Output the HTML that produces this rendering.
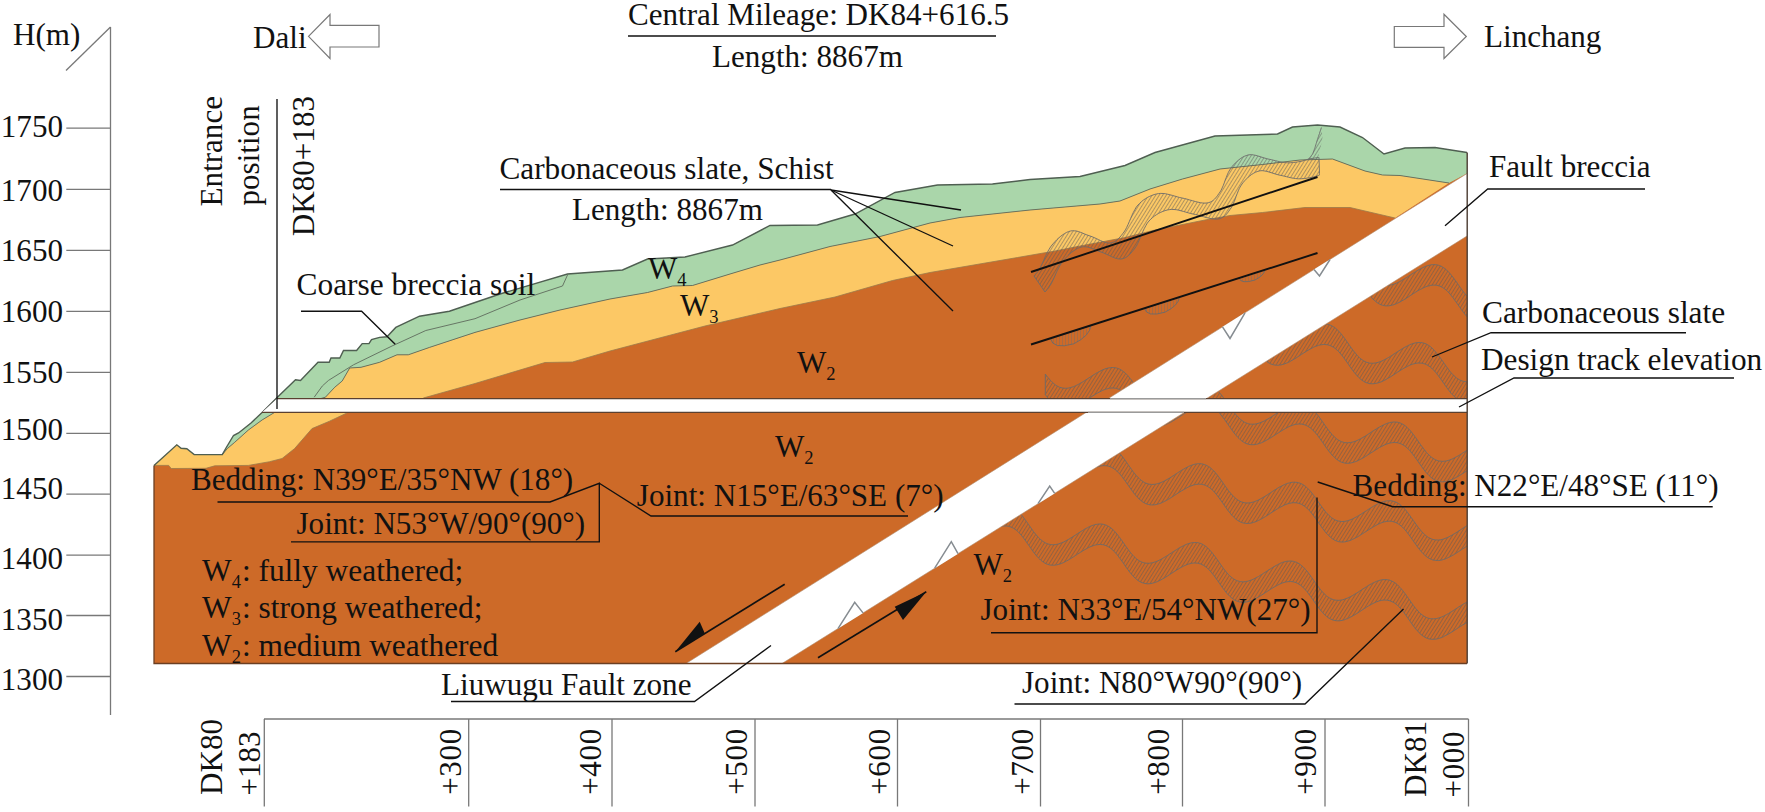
<!DOCTYPE html>
<html><head><meta charset="utf-8"><title>Geological longitudinal profile</title>
<style>html,body{margin:0;padding:0;background:#fff;overflow:hidden}svg{display:block}</style></head>
<body>
<svg width="1765" height="812" viewBox="0 0 1765 812">
<defs>
<pattern id="hatch" width="3" height="3" patternUnits="userSpaceOnUse" patternTransform="rotate(-58)">
<line x1="0" y1="0" x2="3" y2="0" stroke="#595959" stroke-width="0.95"/></pattern>
<pattern id="hatchv" width="3" height="3" patternUnits="userSpaceOnUse" patternTransform="rotate(0)">
<line x1="0" y1="0" x2="0" y2="3" stroke="#6e6e6e" stroke-width="0.75"/></pattern>
</defs>
<rect width="1765" height="812" fill="#fff"/>
<polygon points="154.0,465.4 176.8,444.8 181.1,448.3 186.8,448.8 194.2,454.6 222.3,454.6 226.0,448.0 233.5,435.5 238.5,433.0 251.0,423.0 263.4,411.2 277.4,397.2 295.5,379.8 300.5,380.4 318.0,362.3 329.2,362.3 331.0,358.0 339.8,358.0 343.5,350.5 356.6,350.5 362.2,343.6 369.0,343.6 371.5,339.6 379.6,337.4 387.0,336.8 395.8,327.4 419.5,316.2 449.4,311.2 475.0,302.5 500.0,294.0 567.5,274.0 622.5,270.0 647.5,259.0 685.0,257.0 732.5,245.0 770.0,225.5 817.5,225.0 855.0,214.0 895.0,192.5 937.5,185.0 992.5,184.0 1030.0,179.5 1080.0,176.5 1125.0,165.5 1155.0,152.5 1215.0,136.0 1277.5,134.0 1292.5,127.0 1317.5,125.0 1340.0,127.0 1362.5,137.5 1384.0,154.0 1405.0,148.0 1435.0,147.5 1467.0,152.5 1467.0,663.5 154.0,663.5" fill="#cd6a28"/>
<polygon points="154.0,465.4 176.8,444.8 181.1,448.3 186.8,448.8 194.2,454.6 222.3,454.6 227.3,448.6 234.7,442.3 248.5,429.9 262.2,419.9 274.6,412.4 325.4,397.2 334.8,387.2 342.2,381.0 349.7,368.0 361.0,367.3 379.6,362.3 397.0,354.8 408.3,354.8 429.5,347.4 475.0,332.4 520.0,320.0 560.0,310.0 610.0,299.0 647.5,292.5 672.5,286.0 692.5,285.5 730.0,274.0 760.0,265.0 780.0,260.0 830.0,246.5 880.0,236.5 930.0,223.0 960.0,217.5 1030.0,210.0 1100.0,204.0 1120.0,201.0 1150.0,189.0 1182.5,179.0 1220.0,169.0 1262.5,164.5 1300.0,160.0 1332.5,159.0 1365.0,171.0 1382.5,175.0 1400.0,175.5 1449.0,183.0 1395.0,218.0 1350.0,207.5 1305.0,207.5 1262.5,212.5 1230.0,215.5 1205.0,220.0 1155.0,230.0 1125.0,237.5 1080.0,246.0 1055.0,251.0 1017.5,257.5 930.0,272.5 892.5,280.5 835.0,297.0 780.0,308.5 705.0,326.0 610.0,351.0 572.5,362.0 545.0,362.5 475.0,383.5 423.3,398.0 346.9,413.0 329.5,421.2 312.0,428.6 294.6,448.6 282.1,458.5 269.6,461.7 248.5,465.4 214.8,465.8 206.0,468.3 171.2,468.5 168.7,465.4 154.0,465.4" fill="#fcc865"/>
<polygon points="222.3,454.6 226.0,448.0 233.5,435.5 238.5,433.0 251.0,423.0 263.4,411.2 277.4,397.2 295.5,379.8 300.5,380.4 318.0,362.3 329.2,362.3 331.0,358.0 339.8,358.0 343.5,350.5 356.6,350.5 362.2,343.6 369.0,343.6 371.5,339.6 379.6,337.4 387.0,336.8 395.8,327.4 419.5,316.2 449.4,311.2 475.0,302.5 500.0,294.0 567.5,274.0 622.5,270.0 647.5,259.0 685.0,257.0 732.5,245.0 770.0,225.5 817.5,225.0 855.0,214.0 895.0,192.5 937.5,185.0 992.5,184.0 1030.0,179.5 1080.0,176.5 1125.0,165.5 1155.0,152.5 1215.0,136.0 1277.5,134.0 1292.5,127.0 1317.5,125.0 1340.0,127.0 1362.5,137.5 1384.0,154.0 1405.0,148.0 1435.0,147.5 1467.0,152.5 1467.0,173.5 1449.0,183.0 1400.0,175.5 1382.5,175.0 1365.0,171.0 1332.5,159.0 1300.0,160.0 1262.5,164.5 1220.0,169.0 1182.5,179.0 1150.0,189.0 1120.0,201.0 1100.0,204.0 1030.0,210.0 960.0,217.5 930.0,223.0 880.0,236.5 830.0,246.5 780.0,260.0 760.0,265.0 730.0,274.0 692.5,285.5 672.5,286.0 647.5,292.5 610.0,299.0 560.0,310.0 520.0,320.0 475.0,332.4 429.5,347.4 408.3,354.8 397.0,354.8 379.6,362.3 361.0,367.3 349.7,368.0 342.2,381.0 334.8,387.2 325.4,397.2 274.6,412.4 262.2,419.9 248.5,429.9 234.7,442.3 227.3,448.6 222.3,454.6" fill="#aad6aa"/>
<polyline points="222.3,454.6 227.3,448.6 234.7,442.3 248.5,429.9 262.2,419.9 274.6,412.4 325.4,397.2 334.8,387.2 342.2,381.0 349.7,368.0 361.0,367.3 379.6,362.3 397.0,354.8 408.3,354.8 429.5,347.4 475.0,332.4 520.0,320.0 560.0,310.0 610.0,299.0 647.5,292.5 672.5,286.0 692.5,285.5 730.0,274.0 760.0,265.0 780.0,260.0 830.0,246.5 880.0,236.5 930.0,223.0 960.0,217.5 1030.0,210.0 1100.0,204.0 1120.0,201.0 1150.0,189.0 1182.5,179.0 1220.0,169.0 1262.5,164.5 1300.0,160.0 1332.5,159.0 1365.0,171.0 1382.5,175.0 1400.0,175.5 1449.0,183.0" fill="none" stroke="#5f6b5c" stroke-width="0.9"/>
<polyline points="154.0,465.4 168.7,465.4 171.2,468.5 206.0,468.3 214.8,465.8 248.5,465.4 269.6,461.7 282.1,458.5 294.6,448.6 312.0,428.6 329.5,421.2 346.9,413.0" fill="none" stroke="#9a7a4a" stroke-width="0.8"/>
<polyline points="423.3,398.0 475.0,383.5 545.0,362.5 572.5,362.0 610.0,351.0 705.0,326.0 780.0,308.5 835.0,297.0 892.5,280.5 930.0,272.5 1017.5,257.5 1055.0,251.0 1080.0,246.0 1125.0,237.5 1155.0,230.0 1205.0,220.0 1230.0,215.5 1262.5,212.5 1305.0,207.5 1350.0,207.5 1395.0,218.0" fill="none" stroke="#9a7a4a" stroke-width="0.8"/>
<polyline points="314.2,397.2 322.3,386.0 328.5,380.4 353.5,364.8 392.0,346.0 425.8,330.5 475.0,318.7 520.0,300.0 562.5,286.0 567.5,275.0" fill="none" stroke="#5f6b5c" stroke-width="0.9"/>
<defs>
<clipPath id="cRight"><polygon points="782.0,663.5 1467.0,236.0 1467.0,663.5"/></clipPath>
<clipPath id="cLeftUp"><polygon points="1000.0,100.0 1467.0,100.0 1467.0,173.5 1109.0,398.5 1000.0,398.5"/></clipPath>
</defs>
<g clip-path="url(#cRight)">
<polygon points="777.1,137.1 778.4,137.9 779.8,138.8 781.1,139.9 782.4,141.1 783.7,142.4 784.9,143.8 786.2,145.2 787.4,146.8 788.6,148.4 789.8,150.0 791.0,151.7 792.2,153.4 793.4,155.2 794.6,156.9 795.8,158.6 797.0,160.2 798.2,161.9 799.4,163.4 800.7,164.9 801.9,166.3 803.2,167.7 804.5,168.9 805.8,170.0 807.1,171.0 808.5,171.9 809.9,172.6 811.3,173.2 812.7,173.7 814.2,174.0 815.7,174.2 817.2,174.2 818.7,174.1 820.3,173.9 821.9,173.6 823.5,173.1 825.2,172.5 826.8,171.8 828.5,171.0 830.2,170.2 831.9,169.2 833.6,168.2 835.4,167.1 837.1,166.0 838.9,164.9 840.6,163.7 842.4,162.6 844.1,161.5 845.9,160.4 847.6,159.3 849.3,158.3 851.0,157.4 852.7,156.5 854.4,155.7 856.1,155.1 857.7,154.5 859.3,154.0 860.9,153.7 862.5,153.5 864.0,153.5 865.5,153.5 867.0,153.7 868.5,154.1 869.9,154.6 871.3,155.2 872.7,156.0 874.1,156.8 875.4,157.9 876.7,159.0 878.0,160.2 879.3,161.6 880.5,163.0 881.7,164.5 883.0,166.1 884.2,167.7 885.4,169.4 886.6,171.1 887.8,172.8 889.0,174.5 890.1,176.2 891.3,177.9 892.6,179.5 893.8,181.1 895.0,182.7 896.2,184.1 897.5,185.5 898.8,186.8 900.1,187.9 901.4,189.0 902.8,189.9 904.1,190.7 905.5,191.4 906.9,192.0 908.4,192.4 909.9,192.6 911.4,192.7 912.9,192.7 914.5,192.6 916.0,192.3 917.7,191.9 919.3,191.4 920.9,190.7 922.6,190.0 924.3,189.2 926.0,188.2 927.7,187.3 929.5,186.2 931.2,185.1 932.9,184.0 934.7,182.9 936.4,181.7 938.2,180.6 939.9,179.5 941.7,178.4 943.4,177.4 945.1,176.4 946.8,175.5 948.5,174.7 950.2,173.9 951.8,173.3 953.5,172.8 955.1,172.4 956.7,172.1 958.2,172.0 959.7,172.0 961.2,172.1 962.7,172.4 964.2,172.8 965.6,173.4 967.0,174.1 968.3,174.9 969.7,175.8 971.0,176.9 972.3,178.1 973.6,179.4 974.8,180.7 976.1,182.2 977.3,183.8 978.5,185.4 979.7,187.0 980.9,188.7 982.1,190.4 983.3,192.1 984.5,193.8 985.7,195.5 986.9,197.2 988.1,198.8 989.4,200.4 990.6,201.9 991.8,203.3 993.1,204.6 994.4,205.9 995.7,207.0 997.0,208.0 998.4,208.9 999.8,209.6 1001.2,210.2 1002.6,210.7 1004.1,211.0 1005.6,211.2 1007.1,211.3 1008.6,211.2 1010.2,211.0 1011.8,210.6 1013.4,210.2 1015.1,209.6 1016.7,208.9 1018.4,208.1 1020.1,207.3 1021.8,206.3 1023.5,205.3 1025.3,204.2 1027.0,203.1 1028.8,202.0 1030.5,200.9 1032.3,199.7 1034.0,198.6 1035.8,197.5 1037.5,196.4 1039.2,195.4 1040.9,194.5 1042.6,193.6 1044.3,192.8 1046.0,192.1 1047.6,191.6 1049.2,191.1 1050.8,190.8 1052.4,190.6 1053.9,190.5 1055.5,190.6 1056.9,190.8 1058.4,191.1 1059.8,191.6 1061.2,192.2 1062.6,193.0 1064.0,193.8 1065.3,194.8 1066.6,196.0 1067.9,197.2 1069.2,198.5 1070.4,200.0 1071.7,201.5 1072.9,203.0 1074.1,204.7 1075.3,206.3 1076.5,208.0 1077.7,209.7 1078.9,211.5 1080.1,213.2 1081.3,214.9 1082.5,216.5 1083.7,218.1 1084.9,219.6 1086.2,221.1 1087.4,222.5 1088.7,223.8 1090.0,224.9 1091.3,226.0 1092.7,226.9 1094.1,227.8 1095.4,228.4 1096.9,229.0 1098.3,229.4 1099.8,229.7 1101.3,229.8 1102.8,229.8 1104.4,229.6 1106.0,229.4 1107.6,229.0 1109.2,228.4 1110.9,227.8 1112.5,227.1 1114.2,226.3 1115.9,225.3 1117.6,224.4 1119.4,223.3 1121.1,222.2 1122.9,221.1 1124.6,220.0 1126.4,218.8 1128.1,217.7 1129.9,216.6 1131.6,215.5 1133.3,214.5 1135.0,213.5 1136.7,212.6 1138.4,211.7 1140.1,211.0 1141.8,210.4 1143.4,209.9 1145.0,209.5 1146.6,209.2 1148.1,209.0 1149.7,209.0 1151.2,209.2 1152.6,209.4 1154.1,209.8 1155.5,210.4 1156.9,211.1 1158.3,211.9 1159.6,212.8 1160.9,213.9 1162.2,215.1 1163.5,216.3 1164.8,217.7 1166.0,219.2 1167.3,220.7 1168.5,222.3 1169.7,224.0 1170.9,225.7 1172.1,227.4 1173.3,229.1 1174.5,230.8 1175.7,232.5 1176.9,234.2 1178.1,235.8 1179.3,237.4 1180.5,238.9 1181.8,240.3 1183.0,241.6 1184.3,242.9 1185.6,244.0 1187.0,245.0 1188.3,245.9 1189.7,246.6 1191.1,247.2 1192.6,247.7 1194.0,248.1 1195.5,248.3 1197.0,248.3 1198.6,248.3 1200.1,248.0 1201.7,247.7 1203.3,247.3 1205.0,246.7 1206.6,246.0 1208.3,245.2 1210.0,244.4 1211.7,243.4 1213.5,242.4 1215.2,241.3 1216.9,240.2 1218.7,239.1 1220.4,238.0 1222.2,236.8 1223.9,235.7 1225.7,234.6 1227.4,233.5 1229.1,232.5 1230.9,231.6 1232.6,230.7 1234.2,229.9 1235.9,229.2 1237.5,228.6 1239.2,228.2 1240.7,227.8 1242.3,227.6 1243.9,227.6 1245.4,227.6 1246.9,227.8 1248.3,228.1 1249.8,228.6 1251.2,229.2 1252.6,230.0 1253.9,230.8 1255.3,231.8 1256.6,233.0 1257.8,234.2 1259.1,235.5 1260.4,236.9 1261.6,238.4 1262.8,240.0 1264.0,241.6 1265.2,243.3 1266.4,245.0 1267.6,246.7 1268.8,248.4 1270.0,250.1 1271.2,251.8 1272.4,253.5 1273.6,255.1 1274.9,256.6 1276.1,258.1 1277.4,259.5 1278.7,260.7 1279.9,261.9 1281.3,263.0 1282.6,263.9 1284.0,264.8 1285.4,265.5 1286.8,266.0 1288.2,266.4 1289.7,266.7 1291.2,266.8 1292.7,266.8 1294.3,266.7 1295.9,266.4 1297.5,266.0 1299.1,265.5 1300.8,264.9 1302.4,264.2 1304.1,263.4 1305.8,262.4 1307.5,261.5 1309.3,260.4 1311.0,259.4 1312.8,258.2 1314.5,257.1 1316.3,255.9 1318.0,254.8 1319.8,253.7 1321.5,252.6 1323.2,251.6 1325.0,250.6 1326.7,249.7 1328.3,248.8 1330.0,248.1 1331.7,247.5 1333.3,246.9 1334.9,246.5 1336.5,246.3 1338.1,246.1 1339.6,246.1 1341.1,246.2 1342.6,246.5 1344.0,246.9 1345.4,247.4 1346.8,248.1 1348.2,248.9 1349.6,249.8 1350.9,250.9 1352.2,252.1 1353.5,253.3 1354.7,254.7 1356.0,256.2 1357.2,257.7 1358.4,259.3 1359.6,260.9 1360.8,262.6 1362.0,264.3 1363.2,266.0 1364.4,267.8 1365.6,269.5 1366.8,271.1 1368.0,272.8 1369.2,274.3 1370.5,275.8 1371.7,277.3 1373.0,278.6 1374.3,279.8 1375.6,281.0 1376.9,282.0 1378.3,282.9 1379.6,283.6 1381.0,284.3 1382.5,284.7 1383.9,285.1 1385.4,285.3 1386.9,285.4 1388.5,285.3 1390.0,285.1 1391.6,284.8 1393.3,284.3 1394.9,283.8 1396.6,283.1 1398.2,282.3 1399.9,281.5 1401.6,280.5 1403.4,279.5 1405.1,278.5 1406.8,277.4 1408.6,276.2 1410.3,275.1 1412.1,273.9 1413.8,272.8 1415.6,271.7 1417.3,270.6 1419.0,269.6 1420.8,268.7 1422.5,267.8 1424.1,267.0 1425.8,266.3 1427.4,265.7 1429.1,265.3 1430.7,264.9 1432.2,264.7 1433.8,264.6 1435.3,264.7 1436.8,264.8 1438.3,265.2 1439.7,265.6 1441.1,266.2 1442.5,267.0 1443.8,267.8 1445.2,268.8 1446.5,269.9 1447.8,271.2 1449.1,272.5 1450.3,273.9 1451.5,275.4 1452.8,277.0 1454.0,278.6 1455.2,280.3 1456.4,281.9 1457.6,283.7 1458.8,285.4 1460.0,287.1 1461.2,288.8 1462.4,290.4 1463.6,292.0 1464.8,293.6 1466.0,295.1 1467.3,296.4 1468.6,297.7 1469.9,298.9 1471.2,300.0 1471.2,320.5 1469.9,319.4 1468.6,318.2 1467.3,316.9 1466.0,315.6 1464.8,314.1 1463.6,312.5 1462.4,310.9 1461.2,309.3 1460.0,307.6 1458.8,305.9 1457.6,304.2 1456.4,302.4 1455.2,300.8 1454.0,299.1 1452.8,297.5 1451.5,295.9 1450.3,294.4 1449.1,293.0 1447.8,291.7 1446.5,290.4 1445.2,289.3 1443.8,288.3 1442.5,287.5 1441.1,286.7 1439.7,286.1 1438.3,285.7 1436.8,285.3 1435.3,285.2 1433.8,285.1 1432.2,285.2 1430.7,285.4 1429.1,285.8 1427.4,286.2 1425.8,286.8 1424.1,287.5 1422.5,288.3 1420.8,289.2 1419.0,290.1 1417.3,291.1 1415.6,292.2 1413.8,293.3 1412.1,294.4 1410.3,295.6 1408.6,296.7 1406.8,297.9 1405.1,299.0 1403.4,300.0 1401.6,301.0 1399.9,302.0 1398.2,302.8 1396.6,303.6 1394.9,304.3 1393.3,304.8 1391.6,305.3 1390.0,305.6 1388.5,305.8 1386.9,305.9 1385.4,305.8 1383.9,305.6 1382.5,305.2 1381.0,304.8 1379.6,304.1 1378.3,303.4 1376.9,302.5 1375.6,301.5 1374.3,300.3 1373.0,299.1 1371.7,297.8 1370.5,296.3 1369.2,294.8 1368.0,293.3 1366.8,291.6 1365.6,290.0 1364.4,288.3 1363.2,286.5 1362.0,284.8 1360.8,283.1 1359.6,281.4 1358.4,279.8 1357.2,278.2 1356.0,276.7 1354.7,275.2 1353.5,273.8 1352.2,272.6 1350.9,271.4 1349.6,270.3 1348.2,269.4 1346.8,268.6 1345.4,267.9 1344.0,267.4 1342.6,267.0 1341.1,266.7 1339.6,266.6 1338.1,266.6 1336.5,266.8 1334.9,267.0 1333.3,267.4 1331.7,268.0 1330.0,268.6 1328.3,269.3 1326.7,270.2 1325.0,271.1 1323.2,272.1 1321.5,273.1 1319.8,274.2 1318.0,275.3 1316.3,276.4 1314.5,277.6 1312.8,278.7 1311.0,279.9 1309.3,280.9 1307.5,282.0 1305.8,282.9 1304.1,283.9 1302.4,284.7 1300.8,285.4 1299.1,286.0 1297.5,286.5 1295.9,286.9 1294.3,287.2 1292.7,287.3 1291.2,287.3 1289.7,287.2 1288.2,286.9 1286.8,286.5 1285.4,286.0 1284.0,285.3 1282.6,284.4 1281.3,283.5 1279.9,282.4 1278.7,281.2 1277.4,280.0 1276.1,278.6 1274.9,277.1 1273.6,275.6 1272.4,274.0 1271.2,272.3 1270.0,270.6 1268.8,268.9 1267.6,267.2 1266.4,265.5 1265.2,263.8 1264.0,262.1 1262.8,260.5 1261.6,258.9 1260.4,257.4 1259.1,256.0 1257.8,254.7 1256.6,253.5 1255.3,252.3 1253.9,251.3 1252.6,250.5 1251.2,249.7 1249.8,249.1 1248.3,248.6 1246.9,248.3 1245.4,248.1 1243.9,248.1 1242.3,248.1 1240.7,248.3 1239.2,248.7 1237.5,249.1 1235.9,249.7 1234.2,250.4 1232.6,251.2 1230.9,252.1 1229.1,253.0 1227.4,254.0 1225.7,255.1 1223.9,256.2 1222.2,257.3 1220.4,258.5 1218.7,259.6 1216.9,260.7 1215.2,261.8 1213.5,262.9 1211.7,263.9 1210.0,264.9 1208.3,265.7 1206.6,266.5 1205.0,267.2 1203.3,267.8 1201.7,268.2 1200.1,268.5 1198.6,268.8 1197.0,268.8 1195.5,268.8 1194.0,268.6 1192.6,268.2 1191.1,267.7 1189.7,267.1 1188.3,266.4 1187.0,265.5 1185.6,264.5 1184.3,263.4 1183.0,262.1 1181.8,260.8 1180.5,259.4 1179.3,257.9 1178.1,256.3 1176.9,254.7 1175.7,253.0 1174.5,251.3 1173.3,249.6 1172.1,247.9 1170.9,246.2 1169.7,244.5 1168.5,242.8 1167.3,241.2 1166.0,239.7 1164.8,238.2 1163.5,236.8 1162.2,235.6 1160.9,234.4 1159.6,233.3 1158.3,232.4 1156.9,231.6 1155.5,230.9 1154.1,230.3 1152.6,229.9 1151.2,229.7 1149.7,229.5 1148.1,229.5 1146.6,229.7 1145.0,230.0 1143.4,230.4 1141.8,230.9 1140.1,231.5 1138.4,232.2 1136.7,233.1 1135.0,234.0 1133.3,235.0 1131.6,236.0 1129.9,237.1 1128.1,238.2 1126.4,239.3 1124.6,240.5 1122.9,241.6 1121.1,242.7 1119.4,243.8 1117.6,244.9 1115.9,245.8 1114.2,246.8 1112.5,247.6 1110.9,248.3 1109.2,248.9 1107.6,249.5 1106.0,249.9 1104.4,250.1 1102.8,250.3 1101.3,250.3 1099.8,250.2 1098.3,249.9 1096.9,249.5 1095.4,248.9 1094.1,248.3 1092.7,247.4 1091.3,246.5 1090.0,245.4 1088.7,244.3 1087.4,243.0 1086.2,241.6 1084.9,240.1 1083.7,238.6 1082.5,237.0 1081.3,235.4 1080.1,233.7 1078.9,232.0 1077.7,230.2 1076.5,228.5 1075.3,226.8 1074.1,225.2 1072.9,223.5 1071.7,222.0 1070.4,220.5 1069.2,219.0 1067.9,217.7 1066.6,216.5 1065.3,215.3 1064.0,214.3 1062.6,213.5 1061.2,212.7 1059.8,212.1 1058.4,211.6 1056.9,211.3 1055.5,211.1 1053.9,211.0 1052.4,211.1 1050.8,211.3 1049.2,211.6 1047.6,212.1 1046.0,212.6 1044.3,213.3 1042.6,214.1 1040.9,215.0 1039.2,215.9 1037.5,216.9 1035.8,218.0 1034.0,219.1 1032.3,220.2 1030.5,221.4 1028.8,222.5 1027.0,223.6 1025.3,224.7 1023.5,225.8 1021.8,226.8 1020.1,227.8 1018.4,228.6 1016.7,229.4 1015.1,230.1 1013.4,230.7 1011.8,231.1 1010.2,231.5 1008.6,231.7 1007.1,231.8 1005.6,231.7 1004.1,231.5 1002.6,231.2 1001.2,230.7 999.8,230.1 998.4,229.4 997.0,228.5 995.7,227.5 994.4,226.4 993.1,225.1 991.8,223.8 990.6,222.4 989.4,220.9 988.1,219.3 986.9,217.7 985.7,216.0 984.5,214.3 983.3,212.6 982.1,210.9 980.9,209.2 979.7,207.5 978.5,205.9 977.3,204.3 976.1,202.7 974.8,201.2 973.6,199.9 972.3,198.6 971.0,197.4 969.7,196.3 968.3,195.4 967.0,194.6 965.6,193.9 964.2,193.3 962.7,192.9 961.2,192.6 959.7,192.5 958.2,192.5 956.7,192.6 955.1,192.9 953.5,193.3 951.8,193.8 950.2,194.4 948.5,195.2 946.8,196.0 945.1,196.9 943.4,197.9 941.7,198.9 939.9,200.0 938.2,201.1 936.4,202.2 934.7,203.4 932.9,204.5 931.2,205.6 929.5,206.7 927.7,207.8 926.0,208.7 924.3,209.7 922.6,210.5 920.9,211.2 919.3,211.9 917.7,212.4 916.0,212.8 914.5,213.1 912.9,213.2 911.4,213.2 909.9,213.1 908.4,212.9 906.9,212.5 905.5,211.9 904.1,211.2 902.8,210.4 901.4,209.5 900.1,208.4 898.8,207.3 897.5,206.0 896.2,204.6 895.0,203.2 893.8,201.6 892.6,200.0 891.3,198.4 890.1,196.7 889.0,195.0 887.8,193.3 886.6,191.6 885.4,189.9 884.2,188.2 883.0,186.6 881.7,185.0 880.5,183.5 879.3,182.1 878.0,180.7 876.7,179.5 875.4,178.4 874.1,177.3 872.7,176.5 871.3,175.7 869.9,175.1 868.5,174.6 867.0,174.2 865.5,174.0 864.0,174.0 862.5,174.0 860.9,174.2 859.3,174.5 857.7,175.0 856.1,175.6 854.4,176.2 852.7,177.0 851.0,177.9 849.3,178.8 847.6,179.8 845.9,180.9 844.1,182.0 842.4,183.1 840.6,184.2 838.9,185.4 837.1,186.5 835.4,187.6 833.6,188.7 831.9,189.7 830.2,190.7 828.5,191.5 826.8,192.3 825.2,193.0 823.5,193.6 821.9,194.1 820.3,194.4 818.7,194.6 817.2,194.7 815.7,194.7 814.2,194.5 812.7,194.2 811.3,193.7 809.9,193.1 808.5,192.4 807.1,191.5 805.8,190.5 804.5,189.4 803.2,188.2 801.9,186.8 800.7,185.4 799.4,183.9 798.2,182.4 797.0,180.7 795.8,179.1 794.6,177.4 793.4,175.7 792.2,173.9 791.0,172.2 789.8,170.5 788.6,168.9 787.4,167.3 786.2,165.7 784.9,164.3 783.7,162.9 782.4,161.6 781.1,160.4 779.8,159.3 778.4,158.4 777.1,157.6" fill="url(#hatch)" stroke="#6b6b6b" stroke-width="0.9" stroke-linejoin="round"/>
<polygon points="777.5,231.3 778.7,233.1 779.9,234.8 781.1,236.5 782.3,238.1 783.5,239.8 784.7,241.3 786.0,242.8 787.2,244.2 788.5,245.6 789.8,246.8 791.1,247.9 792.4,248.9 793.8,249.8 795.2,250.5 796.6,251.1 798.0,251.6 799.5,251.9 801.0,252.1 802.5,252.1 804.0,252.0 805.6,251.8 807.2,251.5 808.8,251.0 810.5,250.4 812.1,249.7 813.8,248.9 815.5,248.1 817.2,247.1 818.9,246.1 820.7,245.0 822.4,243.9 824.2,242.8 825.9,241.6 827.7,240.5 829.4,239.4 831.2,238.3 832.9,237.2 834.6,236.2 836.3,235.3 838.0,234.4 839.7,233.6 841.4,233.0 843.0,232.4 844.6,231.9 846.2,231.6 847.8,231.4 849.3,231.4 850.8,231.4 852.3,231.6 853.8,232.0 855.2,232.5 856.6,233.1 858.0,233.9 859.4,234.7 860.7,235.8 862.0,236.9 863.3,238.1 864.6,239.5 865.8,240.9 867.0,242.4 868.3,244.0 869.5,245.6 870.7,247.3 871.9,249.0 873.1,250.7 874.3,252.4 875.4,254.1 876.6,255.8 877.9,257.4 879.1,259.0 880.3,260.6 881.5,262.0 882.8,263.4 884.1,264.7 885.4,265.8 886.7,266.9 888.1,267.8 889.4,268.6 890.8,269.3 892.2,269.9 893.7,270.3 895.2,270.5 896.7,270.6 898.2,270.6 899.8,270.5 901.3,270.2 903.0,269.8 904.6,269.3 906.2,268.6 907.9,267.9 909.6,267.1 911.3,266.1 913.0,265.2 914.8,264.1 916.5,263.0 918.2,261.9 920.0,260.8 921.7,259.6 923.5,258.5 925.2,257.4 927.0,256.3 928.7,255.3 930.4,254.3 932.1,253.4 933.8,252.6 935.5,251.8 937.1,251.2 938.8,250.7 940.4,250.3 942.0,250.0 943.5,249.9 945.0,249.9 946.5,250.0 948.0,250.3 949.5,250.7 950.9,251.3 952.3,252.0 953.6,252.8 955.0,253.7 956.3,254.8 957.6,256.0 958.9,257.3 960.1,258.6 961.4,260.1 962.6,261.7 963.8,263.3 965.0,264.9 966.2,266.6 967.4,268.3 968.6,270.0 969.8,271.7 971.0,273.4 972.2,275.1 973.4,276.7 974.7,278.3 975.9,279.8 977.1,281.2 978.4,282.5 979.7,283.8 981.0,284.9 982.3,285.9 983.7,286.8 985.1,287.5 986.5,288.1 987.9,288.6 989.4,288.9 990.9,289.1 992.4,289.2 993.9,289.1 995.5,288.9 997.1,288.5 998.7,288.1 1000.4,287.5 1002.0,286.8 1003.7,286.0 1005.4,285.2 1007.1,284.2 1008.8,283.2 1010.6,282.1 1012.3,281.0 1014.1,279.9 1015.8,278.8 1017.6,277.6 1019.3,276.5 1021.1,275.4 1022.8,274.3 1024.5,273.3 1026.2,272.4 1027.9,271.5 1029.6,270.7 1031.3,270.0 1032.9,269.5 1034.5,269.0 1036.1,268.7 1037.7,268.5 1039.2,268.4 1040.8,268.5 1042.2,268.7 1043.7,269.0 1045.1,269.5 1046.5,270.1 1047.9,270.9 1049.3,271.7 1050.6,272.7 1051.9,273.9 1053.2,275.1 1054.5,276.4 1055.7,277.9 1057.0,279.4 1058.2,280.9 1059.4,282.6 1060.6,284.2 1061.8,285.9 1063.0,287.6 1064.2,289.4 1065.4,291.1 1066.6,292.8 1067.8,294.4 1069.0,296.0 1070.2,297.5 1071.5,299.0 1072.7,300.4 1074.0,301.7 1075.3,302.8 1076.6,303.9 1078.0,304.8 1079.4,305.7 1080.7,306.3 1082.2,306.9 1083.6,307.3 1085.1,307.6 1086.6,307.7 1088.1,307.7 1089.7,307.5 1091.3,307.3 1092.9,306.9 1094.5,306.3 1096.2,305.7 1097.8,305.0 1099.5,304.2 1101.2,303.2 1102.9,302.3 1104.7,301.2 1106.4,300.1 1108.2,299.0 1109.9,297.9 1111.7,296.7 1113.4,295.6 1115.2,294.5 1116.9,293.4 1118.6,292.4 1120.3,291.4 1122.0,290.5 1123.7,289.6 1125.4,288.9 1127.1,288.3 1128.7,287.8 1130.3,287.4 1131.9,287.1 1133.4,286.9 1135.0,286.9 1136.5,287.1 1137.9,287.3 1139.4,287.7 1140.8,288.3 1142.2,289.0 1143.6,289.8 1144.9,290.7 1146.2,291.8 1147.5,293.0 1148.8,294.2 1150.1,295.6 1151.3,297.1 1152.6,298.6 1153.8,300.2 1155.0,301.9 1156.2,303.6 1157.4,305.3 1158.6,307.0 1159.8,308.7 1161.0,310.4 1162.2,312.1 1163.4,313.7 1164.6,315.3 1165.8,316.8 1167.1,318.2 1168.3,319.5 1169.6,320.8 1170.9,321.9 1172.3,322.9 1173.6,323.8 1175.0,324.5 1176.4,325.1 1177.9,325.6 1179.3,326.0 1180.8,326.2 1182.3,326.2 1183.9,326.2 1185.4,325.9 1187.0,325.6 1188.6,325.2 1190.3,324.6 1191.9,323.9 1193.6,323.1 1195.3,322.3 1197.0,321.3 1198.8,320.3 1200.5,319.2 1202.2,318.1 1204.0,317.0 1205.7,315.9 1207.5,314.7 1209.2,313.6 1211.0,312.5 1212.7,311.4 1214.4,310.4 1216.2,309.5 1217.9,308.6 1219.5,307.8 1221.2,307.1 1222.8,306.5 1224.5,306.1 1226.0,305.7 1227.6,305.5 1229.2,305.5 1230.7,305.5 1232.2,305.7 1233.6,306.0 1235.1,306.5 1236.5,307.1 1237.9,307.9 1239.2,308.7 1240.6,309.7 1241.9,310.9 1243.1,312.1 1244.4,313.4 1245.7,314.8 1246.9,316.3 1248.1,317.9 1249.3,319.5 1250.5,321.2 1251.7,322.9 1252.9,324.6 1254.1,326.3 1255.3,328.0 1256.5,329.7 1257.7,331.4 1258.9,333.0 1260.2,334.5 1261.4,336.0 1262.7,337.4 1264.0,338.6 1265.2,339.8 1266.6,340.9 1267.9,341.8 1269.3,342.7 1270.7,343.4 1272.1,343.9 1273.5,344.3 1275.0,344.6 1276.5,344.7 1278.0,344.7 1279.6,344.6 1281.2,344.3 1282.8,343.9 1284.4,343.4 1286.1,342.8 1287.7,342.1 1289.4,341.3 1291.1,340.3 1292.8,339.4 1294.6,338.3 1296.3,337.3 1298.1,336.1 1299.8,335.0 1301.6,333.8 1303.3,332.7 1305.1,331.6 1306.8,330.5 1308.5,329.5 1310.3,328.5 1312.0,327.6 1313.6,326.7 1315.3,326.0 1317.0,325.4 1318.6,324.8 1320.2,324.4 1321.8,324.2 1323.4,324.0 1324.9,324.0 1326.4,324.1 1327.9,324.4 1329.3,324.8 1330.7,325.3 1332.1,326.0 1333.5,326.8 1334.9,327.7 1336.2,328.8 1337.5,330.0 1338.8,331.2 1340.0,332.6 1341.3,334.1 1342.5,335.6 1343.7,337.2 1344.9,338.8 1346.1,340.5 1347.3,342.2 1348.5,343.9 1349.7,345.7 1350.9,347.4 1352.1,349.0 1353.3,350.7 1354.5,352.2 1355.8,353.7 1357.0,355.2 1358.3,356.5 1359.6,357.7 1360.9,358.9 1362.2,359.9 1363.6,360.8 1364.9,361.5 1366.3,362.2 1367.8,362.6 1369.2,363.0 1370.7,363.2 1372.2,363.3 1373.8,363.2 1375.3,363.0 1376.9,362.7 1378.6,362.2 1380.2,361.7 1381.9,361.0 1383.5,360.2 1385.2,359.4 1386.9,358.4 1388.7,357.4 1390.4,356.4 1392.1,355.3 1393.9,354.1 1395.6,353.0 1397.4,351.8 1399.1,350.7 1400.9,349.6 1402.6,348.5 1404.3,347.5 1406.1,346.6 1407.8,345.7 1409.4,344.9 1411.1,344.2 1412.7,343.6 1414.4,343.2 1416.0,342.8 1417.5,342.6 1419.1,342.5 1420.6,342.6 1422.1,342.7 1423.6,343.1 1425.0,343.5 1426.4,344.1 1427.8,344.9 1429.1,345.7 1430.5,346.7 1431.8,347.8 1433.1,349.1 1434.4,350.4 1435.6,351.8 1436.8,353.3 1438.1,354.9 1439.3,356.5 1440.5,358.2 1441.7,359.8 1442.9,361.6 1444.1,363.3 1445.3,365.0 1446.5,366.7 1447.7,368.3 1448.9,369.9 1450.1,371.5 1451.3,373.0 1452.6,374.3 1453.9,375.6 1455.2,376.8 1456.5,377.9 1457.8,378.8 1459.2,379.7 1460.6,380.4 1462.0,380.9 1463.5,381.4 1464.9,381.6 1466.4,381.8 1468.0,381.8 1469.5,381.7 1471.1,381.4 1471.1,401.9 1469.5,402.2 1468.0,402.3 1466.4,402.3 1464.9,402.1 1463.5,401.9 1462.0,401.4 1460.6,400.9 1459.2,400.2 1457.8,399.3 1456.5,398.4 1455.2,397.3 1453.9,396.1 1452.6,394.8 1451.3,393.5 1450.1,392.0 1448.9,390.4 1447.7,388.8 1446.5,387.2 1445.3,385.5 1444.1,383.8 1442.9,382.1 1441.7,380.3 1440.5,378.7 1439.3,377.0 1438.1,375.4 1436.8,373.8 1435.6,372.3 1434.4,370.9 1433.1,369.6 1431.8,368.3 1430.5,367.2 1429.1,366.2 1427.8,365.4 1426.4,364.6 1425.0,364.0 1423.6,363.6 1422.1,363.2 1420.6,363.1 1419.1,363.0 1417.5,363.1 1416.0,363.3 1414.4,363.7 1412.7,364.1 1411.1,364.7 1409.4,365.4 1407.8,366.2 1406.1,367.1 1404.3,368.0 1402.6,369.0 1400.9,370.1 1399.1,371.2 1397.4,372.3 1395.6,373.5 1393.9,374.6 1392.1,375.8 1390.4,376.9 1388.7,377.9 1386.9,378.9 1385.2,379.9 1383.5,380.7 1381.9,381.5 1380.2,382.2 1378.6,382.7 1376.9,383.2 1375.3,383.5 1373.8,383.7 1372.2,383.8 1370.7,383.7 1369.2,383.5 1367.8,383.1 1366.3,382.7 1364.9,382.0 1363.6,381.3 1362.2,380.4 1360.9,379.4 1359.6,378.2 1358.3,377.0 1357.0,375.7 1355.8,374.2 1354.5,372.7 1353.3,371.2 1352.1,369.5 1350.9,367.9 1349.7,366.2 1348.5,364.4 1347.3,362.7 1346.1,361.0 1344.9,359.3 1343.7,357.7 1342.5,356.1 1341.3,354.6 1340.0,353.1 1338.8,351.7 1337.5,350.5 1336.2,349.3 1334.9,348.2 1333.5,347.3 1332.1,346.5 1330.7,345.8 1329.3,345.3 1327.9,344.9 1326.4,344.6 1324.9,344.5 1323.4,344.5 1321.8,344.7 1320.2,344.9 1318.6,345.3 1317.0,345.9 1315.3,346.5 1313.6,347.2 1312.0,348.1 1310.3,349.0 1308.5,350.0 1306.8,351.0 1305.1,352.1 1303.3,353.2 1301.6,354.3 1299.8,355.5 1298.1,356.6 1296.3,357.8 1294.6,358.8 1292.8,359.9 1291.1,360.8 1289.4,361.8 1287.7,362.6 1286.1,363.3 1284.4,363.9 1282.8,364.4 1281.2,364.8 1279.6,365.1 1278.0,365.2 1276.5,365.2 1275.0,365.1 1273.5,364.8 1272.1,364.4 1270.7,363.9 1269.3,363.2 1267.9,362.3 1266.6,361.4 1265.2,360.3 1264.0,359.1 1262.7,357.9 1261.4,356.5 1260.2,355.0 1258.9,353.5 1257.7,351.9 1256.5,350.2 1255.3,348.5 1254.1,346.8 1252.9,345.1 1251.7,343.4 1250.5,341.7 1249.3,340.0 1248.1,338.4 1246.9,336.8 1245.7,335.3 1244.4,333.9 1243.1,332.6 1241.9,331.4 1240.6,330.2 1239.2,329.2 1237.9,328.4 1236.5,327.6 1235.1,327.0 1233.6,326.5 1232.2,326.2 1230.7,326.0 1229.2,326.0 1227.6,326.0 1226.0,326.2 1224.5,326.6 1222.8,327.0 1221.2,327.6 1219.5,328.3 1217.9,329.1 1216.2,330.0 1214.4,330.9 1212.7,331.9 1211.0,333.0 1209.2,334.1 1207.5,335.2 1205.7,336.4 1204.0,337.5 1202.2,338.6 1200.5,339.7 1198.8,340.8 1197.0,341.8 1195.3,342.8 1193.6,343.6 1191.9,344.4 1190.3,345.1 1188.6,345.7 1187.0,346.1 1185.4,346.4 1183.9,346.7 1182.3,346.7 1180.8,346.7 1179.3,346.5 1177.9,346.1 1176.4,345.6 1175.0,345.0 1173.6,344.3 1172.3,343.4 1170.9,342.4 1169.6,341.3 1168.3,340.0 1167.1,338.7 1165.8,337.3 1164.6,335.8 1163.4,334.2 1162.2,332.6 1161.0,330.9 1159.8,329.2 1158.6,327.5 1157.4,325.8 1156.2,324.1 1155.0,322.4 1153.8,320.7 1152.6,319.1 1151.3,317.6 1150.1,316.1 1148.8,314.7 1147.5,313.5 1146.2,312.3 1144.9,311.2 1143.6,310.3 1142.2,309.5 1140.8,308.8 1139.4,308.2 1137.9,307.8 1136.5,307.6 1135.0,307.4 1133.4,307.4 1131.9,307.6 1130.3,307.9 1128.7,308.3 1127.1,308.8 1125.4,309.4 1123.7,310.1 1122.0,311.0 1120.3,311.9 1118.6,312.9 1116.9,313.9 1115.2,315.0 1113.4,316.1 1111.7,317.2 1109.9,318.4 1108.2,319.5 1106.4,320.6 1104.7,321.7 1102.9,322.8 1101.2,323.7 1099.5,324.7 1097.8,325.5 1096.2,326.2 1094.5,326.8 1092.9,327.4 1091.3,327.8 1089.7,328.0 1088.1,328.2 1086.6,328.2 1085.1,328.1 1083.6,327.8 1082.2,327.4 1080.7,326.8 1079.4,326.2 1078.0,325.3 1076.6,324.4 1075.3,323.3 1074.0,322.2 1072.7,320.9 1071.5,319.5 1070.2,318.0 1069.0,316.5 1067.8,314.9 1066.6,313.3 1065.4,311.6 1064.2,309.9 1063.0,308.1 1061.8,306.4 1060.6,304.7 1059.4,303.1 1058.2,301.4 1057.0,299.9 1055.7,298.4 1054.5,296.9 1053.2,295.6 1051.9,294.4 1050.6,293.2 1049.3,292.2 1047.9,291.4 1046.5,290.6 1045.1,290.0 1043.7,289.5 1042.2,289.2 1040.8,289.0 1039.2,288.9 1037.7,289.0 1036.1,289.2 1034.5,289.5 1032.9,290.0 1031.3,290.5 1029.6,291.2 1027.9,292.0 1026.2,292.9 1024.5,293.8 1022.8,294.8 1021.1,295.9 1019.3,297.0 1017.6,298.1 1015.8,299.3 1014.1,300.4 1012.3,301.5 1010.6,302.6 1008.8,303.7 1007.1,304.7 1005.4,305.7 1003.7,306.5 1002.0,307.3 1000.4,308.0 998.7,308.6 997.1,309.0 995.5,309.4 993.9,309.6 992.4,309.7 990.9,309.6 989.4,309.4 987.9,309.1 986.5,308.6 985.1,308.0 983.7,307.3 982.3,306.4 981.0,305.4 979.7,304.3 978.4,303.0 977.1,301.7 975.9,300.3 974.7,298.8 973.4,297.2 972.2,295.6 971.0,293.9 969.8,292.2 968.6,290.5 967.4,288.8 966.2,287.1 965.0,285.4 963.8,283.8 962.6,282.2 961.4,280.6 960.1,279.1 958.9,277.8 957.6,276.5 956.3,275.3 955.0,274.2 953.6,273.3 952.3,272.5 950.9,271.8 949.5,271.2 948.0,270.8 946.5,270.5 945.0,270.4 943.5,270.4 942.0,270.5 940.4,270.8 938.8,271.2 937.1,271.7 935.5,272.3 933.8,273.1 932.1,273.9 930.4,274.8 928.7,275.8 927.0,276.8 925.2,277.9 923.5,279.0 921.7,280.1 920.0,281.3 918.2,282.4 916.5,283.5 914.8,284.6 913.0,285.7 911.3,286.6 909.6,287.6 907.9,288.4 906.2,289.1 904.6,289.8 903.0,290.3 901.3,290.7 899.8,291.0 898.2,291.1 896.7,291.1 895.2,291.0 893.7,290.8 892.2,290.4 890.8,289.8 889.4,289.1 888.1,288.3 886.7,287.4 885.4,286.3 884.1,285.2 882.8,283.9 881.5,282.5 880.3,281.1 879.1,279.5 877.9,277.9 876.6,276.3 875.4,274.6 874.3,272.9 873.1,271.2 871.9,269.5 870.7,267.8 869.5,266.1 868.3,264.5 867.0,262.9 865.8,261.4 864.6,260.0 863.3,258.6 862.0,257.4 860.7,256.3 859.4,255.2 858.0,254.4 856.6,253.6 855.2,253.0 853.8,252.5 852.3,252.1 850.8,251.9 849.3,251.9 847.8,251.9 846.2,252.1 844.6,252.4 843.0,252.9 841.4,253.5 839.7,254.1 838.0,254.9 836.3,255.8 834.6,256.7 832.9,257.7 831.2,258.8 829.4,259.9 827.7,261.0 825.9,262.1 824.2,263.3 822.4,264.4 820.7,265.5 818.9,266.6 817.2,267.6 815.5,268.6 813.8,269.4 812.1,270.2 810.5,270.9 808.8,271.5 807.2,272.0 805.6,272.3 804.0,272.5 802.5,272.6 801.0,272.6 799.5,272.4 798.0,272.1 796.6,271.6 795.2,271.0 793.8,270.3 792.4,269.4 791.1,268.4 789.8,267.3 788.5,266.1 787.2,264.7 786.0,263.3 784.7,261.8 783.5,260.3 782.3,258.6 781.1,257.0 779.9,255.3 778.7,253.6 777.5,251.8" fill="url(#hatch)" stroke="#6b6b6b" stroke-width="0.9" stroke-linejoin="round"/>
<polygon points="777.7,331.6 779.2,331.5 780.8,331.3 782.4,331.0 784.0,330.5 785.7,329.9 787.3,329.2 789.0,328.4 790.7,327.6 792.4,326.6 794.1,325.6 795.9,324.5 797.6,323.4 799.4,322.3 801.1,321.1 802.9,320.0 804.6,318.9 806.4,317.8 808.1,316.7 809.8,315.7 811.5,314.8 813.2,313.9 814.9,313.1 816.6,312.5 818.2,311.9 819.8,311.4 821.4,311.1 823.0,310.9 824.5,310.9 826.0,310.9 827.5,311.1 829.0,311.5 830.4,312.0 831.8,312.6 833.2,313.4 834.6,314.2 835.9,315.3 837.2,316.4 838.5,317.6 839.8,319.0 841.0,320.4 842.2,321.9 843.5,323.5 844.7,325.1 845.9,326.8 847.1,328.5 848.3,330.2 849.5,331.9 850.6,333.6 851.8,335.3 853.1,336.9 854.3,338.5 855.5,340.1 856.7,341.5 858.0,342.9 859.3,344.2 860.6,345.3 861.9,346.4 863.3,347.3 864.6,348.1 866.0,348.8 867.4,349.4 868.9,349.8 870.4,350.0 871.9,350.1 873.4,350.1 875.0,350.0 876.5,349.7 878.2,349.3 879.8,348.8 881.4,348.1 883.1,347.4 884.8,346.6 886.5,345.6 888.2,344.7 890.0,343.6 891.7,342.5 893.4,341.4 895.2,340.3 896.9,339.1 898.7,338.0 900.4,336.9 902.2,335.8 903.9,334.8 905.6,333.8 907.3,332.9 909.0,332.1 910.7,331.3 912.3,330.7 914.0,330.2 915.6,329.8 917.2,329.5 918.7,329.4 920.2,329.4 921.7,329.5 923.2,329.8 924.7,330.2 926.1,330.8 927.5,331.5 928.8,332.3 930.2,333.2 931.5,334.3 932.8,335.5 934.1,336.8 935.3,338.1 936.6,339.6 937.8,341.2 939.0,342.8 940.2,344.4 941.4,346.1 942.6,347.8 943.8,349.5 945.0,351.2 946.2,352.9 947.4,354.6 948.6,356.2 949.9,357.8 951.1,359.3 952.3,360.7 953.6,362.0 954.9,363.3 956.2,364.4 957.5,365.4 958.9,366.3 960.3,367.0 961.7,367.6 963.1,368.1 964.6,368.4 966.1,368.6 967.6,368.7 969.1,368.6 970.7,368.4 972.3,368.0 973.9,367.6 975.6,367.0 977.2,366.3 978.9,365.5 980.6,364.7 982.3,363.7 984.0,362.7 985.8,361.6 987.5,360.5 989.3,359.4 991.0,358.3 992.8,357.1 994.5,356.0 996.3,354.9 998.0,353.8 999.7,352.8 1001.4,351.9 1003.1,351.0 1004.8,350.2 1006.5,349.5 1008.1,349.0 1009.7,348.5 1011.3,348.2 1012.9,348.0 1014.4,347.9 1016.0,348.0 1017.4,348.2 1018.9,348.5 1020.3,349.0 1021.7,349.6 1023.1,350.4 1024.5,351.2 1025.8,352.2 1027.1,353.4 1028.4,354.6 1029.7,355.9 1030.9,357.4 1032.2,358.9 1033.4,360.4 1034.6,362.1 1035.8,363.7 1037.0,365.4 1038.2,367.1 1039.4,368.9 1040.6,370.6 1041.8,372.3 1043.0,373.9 1044.2,375.5 1045.4,377.0 1046.7,378.5 1047.9,379.9 1049.2,381.2 1050.5,382.3 1051.8,383.4 1053.2,384.3 1054.6,385.2 1055.9,385.8 1057.4,386.4 1058.8,386.8 1060.3,387.1 1061.8,387.2 1063.3,387.2 1064.9,387.0 1066.5,386.8 1068.1,386.4 1069.7,385.8 1071.4,385.2 1073.0,384.5 1074.7,383.7 1076.4,382.7 1078.1,381.8 1079.9,380.7 1081.6,379.6 1083.4,378.5 1085.1,377.4 1086.9,376.2 1088.6,375.1 1090.4,374.0 1092.1,372.9 1093.8,371.9 1095.5,370.9 1097.2,370.0 1098.9,369.1 1100.6,368.4 1102.3,367.8 1103.9,367.3 1105.5,366.9 1107.1,366.6 1108.6,366.4 1110.2,366.4 1111.7,366.6 1113.1,366.8 1114.6,367.2 1116.0,367.8 1117.4,368.5 1118.8,369.3 1120.1,370.2 1121.4,371.3 1122.7,372.5 1124.0,373.7 1125.3,375.1 1126.5,376.6 1127.8,378.1 1129.0,379.7 1130.2,381.4 1131.4,383.1 1132.6,384.8 1133.8,386.5 1135.0,388.2 1136.2,389.9 1137.4,391.6 1138.6,393.2 1139.8,394.8 1141.0,396.3 1142.3,397.7 1143.5,399.0 1144.8,400.3 1146.1,401.4 1147.5,402.4 1148.8,403.3 1150.2,404.0 1151.6,404.6 1153.1,405.1 1154.5,405.5 1156.0,405.7 1157.5,405.7 1159.1,405.7 1160.6,405.4 1162.2,405.1 1163.8,404.7 1165.5,404.1 1167.1,403.4 1168.8,402.6 1170.5,401.8 1172.2,400.8 1174.0,399.8 1175.7,398.7 1177.4,397.6 1179.2,396.5 1180.9,395.4 1182.7,394.2 1184.4,393.1 1186.2,392.0 1187.9,390.9 1189.6,389.9 1191.4,389.0 1193.1,388.1 1194.7,387.3 1196.4,386.6 1198.0,386.0 1199.7,385.6 1201.2,385.2 1202.8,385.0 1204.4,385.0 1205.9,385.0 1207.4,385.2 1208.8,385.5 1210.3,386.0 1211.7,386.6 1213.1,387.4 1214.4,388.2 1215.8,389.2 1217.1,390.4 1218.3,391.6 1219.6,392.9 1220.9,394.3 1222.1,395.8 1223.3,397.4 1224.5,399.0 1225.7,400.7 1226.9,402.4 1228.1,404.1 1229.3,405.8 1230.5,407.5 1231.7,409.2 1232.9,410.9 1234.1,412.5 1235.4,414.0 1236.6,415.5 1237.9,416.9 1239.2,418.1 1240.4,419.3 1241.8,420.4 1243.1,421.3 1244.5,422.2 1245.9,422.9 1247.3,423.4 1248.7,423.8 1250.2,424.1 1251.7,424.2 1253.2,424.2 1254.8,424.1 1256.4,423.8 1258.0,423.4 1259.6,422.9 1261.3,422.3 1262.9,421.6 1264.6,420.8 1266.3,419.8 1268.0,418.9 1269.8,417.8 1271.5,416.8 1273.3,415.6 1275.0,414.5 1276.8,413.3 1278.5,412.2 1280.3,411.1 1282.0,410.0 1283.7,409.0 1285.5,408.0 1287.2,407.1 1288.8,406.2 1290.5,405.5 1292.2,404.9 1293.8,404.3 1295.4,403.9 1297.0,403.7 1298.6,403.5 1300.1,403.5 1301.6,403.6 1303.1,403.9 1304.5,404.3 1305.9,404.8 1307.3,405.5 1308.7,406.3 1310.1,407.2 1311.4,408.3 1312.7,409.5 1314.0,410.7 1315.2,412.1 1316.5,413.6 1317.7,415.1 1318.9,416.7 1320.1,418.3 1321.3,420.0 1322.5,421.7 1323.7,423.4 1324.9,425.2 1326.1,426.9 1327.3,428.5 1328.5,430.2 1329.7,431.7 1331.0,433.2 1332.2,434.7 1333.5,436.0 1334.8,437.2 1336.1,438.4 1337.4,439.4 1338.8,440.3 1340.1,441.0 1341.5,441.7 1343.0,442.1 1344.4,442.5 1345.9,442.7 1347.4,442.8 1349.0,442.7 1350.5,442.5 1352.1,442.2 1353.8,441.7 1355.4,441.2 1357.1,440.5 1358.7,439.7 1360.4,438.9 1362.1,437.9 1363.9,436.9 1365.6,435.9 1367.3,434.8 1369.1,433.6 1370.8,432.5 1372.6,431.3 1374.3,430.2 1376.1,429.1 1377.8,428.0 1379.5,427.0 1381.3,426.1 1383.0,425.2 1384.6,424.4 1386.3,423.7 1387.9,423.1 1389.6,422.7 1391.2,422.3 1392.7,422.1 1394.3,422.0 1395.8,422.1 1397.3,422.2 1398.8,422.6 1400.2,423.0 1401.6,423.6 1403.0,424.4 1404.3,425.2 1405.7,426.2 1407.0,427.3 1408.3,428.6 1409.6,429.9 1410.8,431.3 1412.0,432.8 1413.3,434.4 1414.5,436.0 1415.7,437.7 1416.9,439.3 1418.1,441.1 1419.3,442.8 1420.5,444.5 1421.7,446.2 1422.9,447.8 1424.1,449.4 1425.3,451.0 1426.5,452.5 1427.8,453.8 1429.1,455.1 1430.4,456.3 1431.7,457.4 1433.0,458.3 1434.4,459.2 1435.8,459.9 1437.2,460.4 1438.7,460.9 1440.1,461.1 1441.6,461.3 1443.2,461.3 1444.7,461.2 1446.3,460.9 1447.9,460.5 1449.5,460.0 1451.2,459.4 1452.8,458.7 1454.5,457.8 1456.2,456.9 1458.0,456.0 1459.7,454.9 1461.4,453.9 1463.2,452.7 1464.9,451.6 1466.7,450.5 1468.4,449.3 1470.2,448.2 1471.9,447.1 1471.9,467.6 1470.2,468.7 1468.4,469.8 1466.7,471.0 1464.9,472.1 1463.2,473.2 1461.4,474.4 1459.7,475.4 1458.0,476.5 1456.2,477.4 1454.5,478.3 1452.8,479.2 1451.2,479.9 1449.5,480.5 1447.9,481.0 1446.3,481.4 1444.7,481.7 1443.2,481.8 1441.6,481.8 1440.1,481.6 1438.7,481.4 1437.2,480.9 1435.8,480.4 1434.4,479.7 1433.0,478.8 1431.7,477.9 1430.4,476.8 1429.1,475.6 1427.8,474.3 1426.5,473.0 1425.3,471.5 1424.1,469.9 1422.9,468.3 1421.7,466.7 1420.5,465.0 1419.3,463.3 1418.1,461.6 1416.9,459.8 1415.7,458.2 1414.5,456.5 1413.3,454.9 1412.0,453.3 1410.8,451.8 1409.6,450.4 1408.3,449.1 1407.0,447.8 1405.7,446.7 1404.3,445.7 1403.0,444.9 1401.6,444.1 1400.2,443.5 1398.8,443.1 1397.3,442.7 1395.8,442.6 1394.3,442.5 1392.7,442.6 1391.2,442.8 1389.6,443.2 1387.9,443.6 1386.3,444.2 1384.6,444.9 1383.0,445.7 1381.3,446.6 1379.5,447.5 1377.8,448.5 1376.1,449.6 1374.3,450.7 1372.6,451.8 1370.8,453.0 1369.1,454.1 1367.3,455.3 1365.6,456.4 1363.9,457.4 1362.1,458.4 1360.4,459.4 1358.7,460.2 1357.1,461.0 1355.4,461.7 1353.8,462.2 1352.1,462.7 1350.5,463.0 1349.0,463.2 1347.4,463.3 1345.9,463.2 1344.4,463.0 1343.0,462.6 1341.5,462.2 1340.1,461.5 1338.8,460.8 1337.4,459.9 1336.1,458.9 1334.8,457.7 1333.5,456.5 1332.2,455.2 1331.0,453.7 1329.7,452.2 1328.5,450.7 1327.3,449.0 1326.1,447.4 1324.9,445.7 1323.7,443.9 1322.5,442.2 1321.3,440.5 1320.1,438.8 1318.9,437.2 1317.7,435.6 1316.5,434.1 1315.2,432.6 1314.0,431.2 1312.7,430.0 1311.4,428.8 1310.1,427.7 1308.7,426.8 1307.3,426.0 1305.9,425.3 1304.5,424.8 1303.1,424.4 1301.6,424.1 1300.1,424.0 1298.6,424.0 1297.0,424.2 1295.4,424.4 1293.8,424.8 1292.2,425.4 1290.5,426.0 1288.8,426.7 1287.2,427.6 1285.5,428.5 1283.7,429.5 1282.0,430.5 1280.3,431.6 1278.5,432.7 1276.8,433.8 1275.0,435.0 1273.3,436.1 1271.5,437.3 1269.8,438.3 1268.0,439.4 1266.3,440.3 1264.6,441.3 1262.9,442.1 1261.3,442.8 1259.6,443.4 1258.0,443.9 1256.4,444.3 1254.8,444.6 1253.2,444.7 1251.7,444.7 1250.2,444.6 1248.7,444.3 1247.3,443.9 1245.9,443.4 1244.5,442.7 1243.1,441.8 1241.8,440.9 1240.4,439.8 1239.2,438.6 1237.9,437.4 1236.6,436.0 1235.4,434.5 1234.1,433.0 1232.9,431.4 1231.7,429.7 1230.5,428.0 1229.3,426.3 1228.1,424.6 1226.9,422.9 1225.7,421.2 1224.5,419.5 1223.3,417.9 1222.1,416.3 1220.9,414.8 1219.6,413.4 1218.3,412.1 1217.1,410.9 1215.8,409.7 1214.4,408.7 1213.1,407.9 1211.7,407.1 1210.3,406.5 1208.8,406.0 1207.4,405.7 1205.9,405.5 1204.4,405.5 1202.8,405.5 1201.2,405.7 1199.7,406.1 1198.0,406.5 1196.4,407.1 1194.7,407.8 1193.1,408.6 1191.4,409.5 1189.6,410.4 1187.9,411.4 1186.2,412.5 1184.4,413.6 1182.7,414.7 1180.9,415.9 1179.2,417.0 1177.4,418.1 1175.7,419.2 1174.0,420.3 1172.2,421.3 1170.5,422.3 1168.8,423.1 1167.1,423.9 1165.5,424.6 1163.8,425.2 1162.2,425.6 1160.6,425.9 1159.1,426.2 1157.5,426.2 1156.0,426.2 1154.5,426.0 1153.1,425.6 1151.6,425.1 1150.2,424.5 1148.8,423.8 1147.5,422.9 1146.1,421.9 1144.8,420.8 1143.5,419.5 1142.3,418.2 1141.0,416.8 1139.8,415.3 1138.6,413.7 1137.4,412.1 1136.2,410.4 1135.0,408.7 1133.8,407.0 1132.6,405.3 1131.4,403.6 1130.2,401.9 1129.0,400.2 1127.8,398.6 1126.5,397.1 1125.3,395.6 1124.0,394.2 1122.7,393.0 1121.4,391.8 1120.1,390.7 1118.8,389.8 1117.4,389.0 1116.0,388.3 1114.6,387.7 1113.1,387.3 1111.7,387.1 1110.2,386.9 1108.6,386.9 1107.1,387.1 1105.5,387.4 1103.9,387.8 1102.3,388.3 1100.6,388.9 1098.9,389.6 1097.2,390.5 1095.5,391.4 1093.8,392.4 1092.1,393.4 1090.4,394.5 1088.6,395.6 1086.9,396.7 1085.1,397.9 1083.4,399.0 1081.6,400.1 1079.9,401.2 1078.1,402.3 1076.4,403.2 1074.7,404.2 1073.0,405.0 1071.4,405.7 1069.7,406.3 1068.1,406.9 1066.5,407.3 1064.9,407.5 1063.3,407.7 1061.8,407.7 1060.3,407.6 1058.8,407.3 1057.4,406.9 1055.9,406.3 1054.6,405.7 1053.2,404.8 1051.8,403.9 1050.5,402.8 1049.2,401.7 1047.9,400.4 1046.7,399.0 1045.4,397.5 1044.2,396.0 1043.0,394.4 1041.8,392.8 1040.6,391.1 1039.4,389.4 1038.2,387.6 1037.0,385.9 1035.8,384.2 1034.6,382.6 1033.4,380.9 1032.2,379.4 1030.9,377.9 1029.7,376.4 1028.4,375.1 1027.1,373.9 1025.8,372.7 1024.5,371.7 1023.1,370.9 1021.7,370.1 1020.3,369.5 1018.9,369.0 1017.4,368.7 1016.0,368.5 1014.4,368.4 1012.9,368.5 1011.3,368.7 1009.7,369.0 1008.1,369.5 1006.5,370.0 1004.8,370.7 1003.1,371.5 1001.4,372.4 999.7,373.3 998.0,374.3 996.3,375.4 994.5,376.5 992.8,377.6 991.0,378.8 989.3,379.9 987.5,381.0 985.8,382.1 984.0,383.2 982.3,384.2 980.6,385.2 978.9,386.0 977.2,386.8 975.6,387.5 973.9,388.1 972.3,388.5 970.7,388.9 969.1,389.1 967.6,389.2 966.1,389.1 964.6,388.9 963.1,388.6 961.7,388.1 960.3,387.5 958.9,386.8 957.5,385.9 956.2,384.9 954.9,383.8 953.6,382.5 952.3,381.2 951.1,379.8 949.9,378.3 948.6,376.7 947.4,375.1 946.2,373.4 945.0,371.7 943.8,370.0 942.6,368.3 941.4,366.6 940.2,364.9 939.0,363.3 937.8,361.7 936.6,360.1 935.3,358.6 934.1,357.3 932.8,356.0 931.5,354.8 930.2,353.7 928.8,352.8 927.5,352.0 926.1,351.3 924.7,350.7 923.2,350.3 921.7,350.0 920.2,349.9 918.7,349.9 917.2,350.0 915.6,350.3 914.0,350.7 912.3,351.2 910.7,351.8 909.0,352.6 907.3,353.4 905.6,354.3 903.9,355.3 902.2,356.3 900.4,357.4 898.7,358.5 896.9,359.6 895.2,360.8 893.4,361.9 891.7,363.0 890.0,364.1 888.2,365.2 886.5,366.1 884.8,367.1 883.1,367.9 881.4,368.6 879.8,369.3 878.2,369.8 876.5,370.2 875.0,370.5 873.4,370.6 871.9,370.6 870.4,370.5 868.9,370.3 867.4,369.9 866.0,369.3 864.6,368.6 863.3,367.8 861.9,366.9 860.6,365.8 859.3,364.7 858.0,363.4 856.7,362.0 855.5,360.6 854.3,359.0 853.1,357.4 851.8,355.8 850.6,354.1 849.5,352.4 848.3,350.7 847.1,349.0 845.9,347.3 844.7,345.6 843.5,344.0 842.2,342.4 841.0,340.9 839.8,339.5 838.5,338.1 837.2,336.9 835.9,335.8 834.6,334.7 833.2,333.9 831.8,333.1 830.4,332.5 829.0,332.0 827.5,331.6 826.0,331.4 824.5,331.4 823.0,331.4 821.4,331.6 819.8,331.9 818.2,332.4 816.6,333.0 814.9,333.6 813.2,334.4 811.5,335.3 809.8,336.2 808.1,337.2 806.4,338.3 804.6,339.4 802.9,340.5 801.1,341.6 799.4,342.8 797.6,343.9 795.9,345.0 794.1,346.1 792.4,347.1 790.7,348.1 789.0,348.9 787.3,349.7 785.7,350.4 784.0,351.0 782.4,351.5 780.8,351.8 779.2,352.0 777.7,352.1" fill="url(#hatch)" stroke="#6b6b6b" stroke-width="0.9" stroke-linejoin="round"/>
<polygon points="778.0,409.5 779.6,409.0 781.2,408.3 782.9,407.6 784.6,406.8 786.3,405.8 788.0,404.9 789.8,403.8 791.5,402.7 793.2,401.6 795.0,400.5 796.7,399.3 798.5,398.2 800.2,397.1 802.0,396.0 803.7,395.0 805.4,394.0 807.1,393.1 808.8,392.3 810.5,391.5 812.1,390.9 813.8,390.4 815.4,390.0 817.0,389.7 818.5,389.6 820.0,389.6 821.5,389.7 823.0,390.0 824.5,390.4 825.9,391.0 827.3,391.7 828.6,392.5 830.0,393.4 831.3,394.5 832.6,395.7 833.9,397.0 835.1,398.3 836.4,399.8 837.6,401.4 838.8,403.0 840.0,404.6 841.2,406.3 842.4,408.0 843.6,409.7 844.8,411.4 846.0,413.1 847.2,414.8 848.4,416.4 849.7,418.0 850.9,419.5 852.1,420.9 853.4,422.2 854.7,423.5 856.0,424.6 857.3,425.6 858.7,426.5 860.1,427.2 861.5,427.8 862.9,428.3 864.4,428.6 865.9,428.8 867.4,428.9 868.9,428.8 870.5,428.6 872.1,428.2 873.7,427.8 875.4,427.2 877.0,426.5 878.7,425.7 880.4,424.9 882.1,423.9 883.8,422.9 885.6,421.8 887.3,420.7 889.1,419.6 890.8,418.5 892.6,417.3 894.3,416.2 896.1,415.1 897.8,414.0 899.5,413.0 901.2,412.1 902.9,411.2 904.6,410.4 906.3,409.7 907.9,409.2 909.5,408.7 911.1,408.4 912.7,408.2 914.2,408.1 915.8,408.2 917.2,408.4 918.7,408.7 920.1,409.2 921.5,409.8 922.9,410.6 924.3,411.4 925.6,412.4 926.9,413.6 928.2,414.8 929.5,416.1 930.7,417.6 932.0,419.1 933.2,420.6 934.4,422.3 935.6,423.9 936.8,425.6 938.0,427.3 939.2,429.1 940.4,430.8 941.6,432.5 942.8,434.1 944.0,435.7 945.2,437.2 946.5,438.7 947.7,440.1 949.0,441.4 950.3,442.5 951.6,443.6 953.0,444.5 954.4,445.4 955.7,446.0 957.2,446.6 958.6,447.0 960.1,447.3 961.6,447.4 963.1,447.4 964.7,447.2 966.3,447.0 967.9,446.6 969.5,446.0 971.2,445.4 972.8,444.7 974.5,443.9 976.2,442.9 977.9,442.0 979.7,440.9 981.4,439.8 983.2,438.7 984.9,437.6 986.7,436.4 988.4,435.3 990.2,434.2 991.9,433.1 993.6,432.1 995.3,431.1 997.0,430.2 998.7,429.3 1000.4,428.6 1002.1,428.0 1003.7,427.5 1005.3,427.1 1006.9,426.8 1008.4,426.6 1010.0,426.6 1011.5,426.8 1012.9,427.0 1014.4,427.4 1015.8,428.0 1017.2,428.7 1018.6,429.5 1019.9,430.4 1021.2,431.5 1022.5,432.7 1023.8,433.9 1025.1,435.3 1026.3,436.8 1027.6,438.3 1028.8,439.9 1030.0,441.6 1031.2,443.3 1032.4,445.0 1033.6,446.7 1034.8,448.4 1036.0,450.1 1037.2,451.8 1038.4,453.4 1039.6,455.0 1040.8,456.5 1042.1,457.9 1043.3,459.2 1044.6,460.5 1045.9,461.6 1047.3,462.6 1048.6,463.5 1050.0,464.2 1051.4,464.8 1052.9,465.3 1054.3,465.7 1055.8,465.9 1057.3,465.9 1058.9,465.9 1060.4,465.6 1062.0,465.3 1063.6,464.9 1065.3,464.3 1066.9,463.6 1068.6,462.8 1070.3,462.0 1072.0,461.0 1073.8,460.0 1075.5,458.9 1077.2,457.8 1079.0,456.7 1080.7,455.6 1082.5,454.4 1084.2,453.3 1086.0,452.2 1087.7,451.1 1089.4,450.1 1091.2,449.2 1092.9,448.3 1094.5,447.5 1096.2,446.8 1097.8,446.2 1099.5,445.8 1101.0,445.4 1102.6,445.2 1104.2,445.2 1105.7,445.2 1107.2,445.4 1108.6,445.7 1110.1,446.2 1111.5,446.8 1112.9,447.6 1114.2,448.4 1115.6,449.4 1116.9,450.6 1118.1,451.8 1119.4,453.1 1120.7,454.5 1121.9,456.0 1123.1,457.6 1124.3,459.2 1125.5,460.9 1126.7,462.6 1127.9,464.3 1129.1,466.0 1130.3,467.7 1131.5,469.4 1132.7,471.1 1133.9,472.7 1135.2,474.2 1136.4,475.7 1137.7,477.1 1139.0,478.3 1140.2,479.5 1141.6,480.6 1142.9,481.5 1144.3,482.4 1145.7,483.1 1147.1,483.6 1148.5,484.0 1150.0,484.3 1151.5,484.4 1153.0,484.4 1154.6,484.3 1156.2,484.0 1157.8,483.6 1159.4,483.1 1161.1,482.5 1162.7,481.8 1164.4,481.0 1166.1,480.0 1167.8,479.1 1169.6,478.0 1171.3,477.0 1173.1,475.8 1174.8,474.7 1176.6,473.5 1178.3,472.4 1180.1,471.3 1181.8,470.2 1183.5,469.2 1185.3,468.2 1187.0,467.3 1188.6,466.4 1190.3,465.7 1192.0,465.1 1193.6,464.5 1195.2,464.1 1196.8,463.9 1198.4,463.7 1199.9,463.7 1201.4,463.8 1202.9,464.1 1204.3,464.5 1205.7,465.0 1207.1,465.7 1208.5,466.5 1209.9,467.4 1211.2,468.5 1212.5,469.7 1213.8,470.9 1215.0,472.3 1216.3,473.8 1217.5,475.3 1218.7,476.9 1219.9,478.5 1221.1,480.2 1222.3,481.9 1223.5,483.6 1224.7,485.4 1225.9,487.1 1227.1,488.7 1228.3,490.4 1229.5,491.9 1230.8,493.4 1232.0,494.9 1233.3,496.2 1234.6,497.4 1235.9,498.6 1237.2,499.6 1238.6,500.5 1239.9,501.2 1241.3,501.9 1242.8,502.3 1244.2,502.7 1245.7,502.9 1247.2,503.0 1248.8,502.9 1250.3,502.7 1251.9,502.4 1253.6,501.9 1255.2,501.4 1256.9,500.7 1258.5,499.9 1260.2,499.1 1261.9,498.1 1263.7,497.1 1265.4,496.1 1267.1,495.0 1268.9,493.8 1270.6,492.7 1272.4,491.5 1274.1,490.4 1275.9,489.3 1277.6,488.2 1279.3,487.2 1281.1,486.3 1282.8,485.4 1284.4,484.6 1286.1,483.9 1287.7,483.3 1289.4,482.9 1291.0,482.5 1292.5,482.3 1294.1,482.2 1295.6,482.3 1297.1,482.4 1298.6,482.8 1300.0,483.2 1301.4,483.8 1302.8,484.6 1304.1,485.4 1305.5,486.4 1306.8,487.5 1308.1,488.8 1309.4,490.1 1310.6,491.5 1311.8,493.0 1313.1,494.6 1314.3,496.2 1315.5,497.9 1316.7,499.5 1317.9,501.3 1319.1,503.0 1320.3,504.7 1321.5,506.4 1322.7,508.0 1323.9,509.6 1325.1,511.2 1326.3,512.7 1327.6,514.0 1328.9,515.3 1330.2,516.5 1331.5,517.6 1332.8,518.5 1334.2,519.4 1335.6,520.1 1337.0,520.6 1338.5,521.1 1339.9,521.3 1341.4,521.5 1343.0,521.5 1344.5,521.4 1346.1,521.1 1347.7,520.7 1349.3,520.2 1351.0,519.6 1352.6,518.9 1354.3,518.0 1356.0,517.1 1357.8,516.2 1359.5,515.1 1361.2,514.1 1363.0,512.9 1364.7,511.8 1366.5,510.7 1368.2,509.5 1370.0,508.4 1371.7,507.3 1373.4,506.3 1375.2,505.3 1376.9,504.4 1378.6,503.5 1380.2,502.8 1381.9,502.1 1383.5,501.6 1385.1,501.2 1386.7,500.9 1388.3,500.8 1389.8,500.7 1391.3,500.8 1392.8,501.1 1394.2,501.5 1395.7,502.0 1397.1,502.7 1398.4,503.5 1399.8,504.4 1401.1,505.5 1402.4,506.6 1403.7,507.9 1404.9,509.3 1406.2,510.7 1407.4,512.3 1408.6,513.9 1409.8,515.5 1411.0,517.2 1412.2,518.9 1413.4,520.6 1414.6,522.3 1415.8,524.0 1417.0,525.7 1418.2,527.3 1419.5,528.9 1420.7,530.4 1421.9,531.8 1423.2,533.2 1424.5,534.4 1425.8,535.6 1427.1,536.6 1428.5,537.5 1429.9,538.2 1431.3,538.9 1432.7,539.4 1434.2,539.7 1435.6,539.9 1437.2,540.0 1438.7,540.0 1440.3,539.8 1441.9,539.5 1443.5,539.0 1445.1,538.4 1446.8,537.8 1448.4,537.0 1450.1,536.2 1451.9,535.2 1453.6,534.2 1455.3,533.2 1457.1,532.1 1458.8,530.9 1460.6,529.8 1462.3,528.6 1464.1,527.5 1465.8,526.4 1467.5,525.3 1469.3,524.3 1471.0,523.4 1471.0,543.9 1469.3,544.8 1467.5,545.8 1465.8,546.9 1464.1,548.0 1462.3,549.1 1460.6,550.3 1458.8,551.4 1457.1,552.6 1455.3,553.7 1453.6,554.7 1451.9,555.7 1450.1,556.7 1448.4,557.5 1446.8,558.3 1445.1,558.9 1443.5,559.5 1441.9,560.0 1440.3,560.3 1438.7,560.5 1437.2,560.5 1435.6,560.4 1434.2,560.2 1432.7,559.9 1431.3,559.4 1429.9,558.7 1428.5,558.0 1427.1,557.1 1425.8,556.1 1424.5,554.9 1423.2,553.7 1421.9,552.3 1420.7,550.9 1419.5,549.4 1418.2,547.8 1417.0,546.2 1415.8,544.5 1414.6,542.8 1413.4,541.1 1412.2,539.4 1411.0,537.7 1409.8,536.0 1408.6,534.4 1407.4,532.8 1406.2,531.2 1404.9,529.8 1403.7,528.4 1402.4,527.1 1401.1,526.0 1399.8,524.9 1398.4,524.0 1397.1,523.2 1395.7,522.5 1394.2,522.0 1392.8,521.6 1391.3,521.3 1389.8,521.2 1388.3,521.3 1386.7,521.4 1385.1,521.7 1383.5,522.1 1381.9,522.6 1380.2,523.3 1378.6,524.0 1376.9,524.9 1375.2,525.8 1373.4,526.8 1371.7,527.8 1370.0,528.9 1368.2,530.0 1366.5,531.2 1364.7,532.3 1363.0,533.4 1361.2,534.6 1359.5,535.6 1357.8,536.7 1356.0,537.6 1354.3,538.5 1352.6,539.4 1351.0,540.1 1349.3,540.7 1347.7,541.2 1346.1,541.6 1344.5,541.9 1343.0,542.0 1341.4,542.0 1339.9,541.8 1338.5,541.6 1337.0,541.1 1335.6,540.6 1334.2,539.9 1332.8,539.0 1331.5,538.1 1330.2,537.0 1328.9,535.8 1327.6,534.5 1326.3,533.2 1325.1,531.7 1323.9,530.1 1322.7,528.5 1321.5,526.9 1320.3,525.2 1319.1,523.5 1317.9,521.8 1316.7,520.0 1315.5,518.4 1314.3,516.7 1313.1,515.1 1311.8,513.5 1310.6,512.0 1309.4,510.6 1308.1,509.3 1306.8,508.0 1305.5,506.9 1304.1,505.9 1302.8,505.1 1301.4,504.3 1300.0,503.7 1298.6,503.3 1297.1,502.9 1295.6,502.8 1294.1,502.7 1292.5,502.8 1291.0,503.0 1289.4,503.4 1287.7,503.8 1286.1,504.4 1284.4,505.1 1282.8,505.9 1281.1,506.8 1279.3,507.7 1277.6,508.7 1275.9,509.8 1274.1,510.9 1272.4,512.0 1270.6,513.2 1268.9,514.3 1267.1,515.5 1265.4,516.6 1263.7,517.6 1261.9,518.6 1260.2,519.6 1258.5,520.4 1256.9,521.2 1255.2,521.9 1253.6,522.4 1251.9,522.9 1250.3,523.2 1248.8,523.4 1247.2,523.5 1245.7,523.4 1244.2,523.2 1242.8,522.8 1241.3,522.4 1239.9,521.7 1238.6,521.0 1237.2,520.1 1235.9,519.1 1234.6,517.9 1233.3,516.7 1232.0,515.4 1230.8,513.9 1229.5,512.4 1228.3,510.9 1227.1,509.2 1225.9,507.6 1224.7,505.9 1223.5,504.1 1222.3,502.4 1221.1,500.7 1219.9,499.0 1218.7,497.4 1217.5,495.8 1216.3,494.3 1215.0,492.8 1213.8,491.4 1212.5,490.2 1211.2,489.0 1209.9,487.9 1208.5,487.0 1207.1,486.2 1205.7,485.5 1204.3,485.0 1202.9,484.6 1201.4,484.3 1199.9,484.2 1198.4,484.2 1196.8,484.4 1195.2,484.6 1193.6,485.0 1192.0,485.6 1190.3,486.2 1188.6,486.9 1187.0,487.8 1185.3,488.7 1183.5,489.7 1181.8,490.7 1180.1,491.8 1178.3,492.9 1176.6,494.0 1174.8,495.2 1173.1,496.3 1171.3,497.5 1169.6,498.5 1167.8,499.6 1166.1,500.5 1164.4,501.5 1162.7,502.3 1161.1,503.0 1159.4,503.6 1157.8,504.1 1156.2,504.5 1154.6,504.8 1153.0,504.9 1151.5,504.9 1150.0,504.8 1148.5,504.5 1147.1,504.1 1145.7,503.6 1144.3,502.9 1142.9,502.0 1141.6,501.1 1140.2,500.0 1139.0,498.8 1137.7,497.6 1136.4,496.2 1135.2,494.7 1133.9,493.2 1132.7,491.6 1131.5,489.9 1130.3,488.2 1129.1,486.5 1127.9,484.8 1126.7,483.1 1125.5,481.4 1124.3,479.7 1123.1,478.1 1121.9,476.5 1120.7,475.0 1119.4,473.6 1118.1,472.3 1116.9,471.1 1115.6,469.9 1114.2,468.9 1112.9,468.1 1111.5,467.3 1110.1,466.7 1108.6,466.2 1107.2,465.9 1105.7,465.7 1104.2,465.7 1102.6,465.7 1101.0,465.9 1099.5,466.3 1097.8,466.7 1096.2,467.3 1094.5,468.0 1092.9,468.8 1091.2,469.7 1089.4,470.6 1087.7,471.6 1086.0,472.7 1084.2,473.8 1082.5,474.9 1080.7,476.1 1079.0,477.2 1077.2,478.3 1075.5,479.4 1073.8,480.5 1072.0,481.5 1070.3,482.5 1068.6,483.3 1066.9,484.1 1065.3,484.8 1063.6,485.4 1062.0,485.8 1060.4,486.1 1058.9,486.4 1057.3,486.4 1055.8,486.4 1054.3,486.2 1052.9,485.8 1051.4,485.3 1050.0,484.7 1048.6,484.0 1047.3,483.1 1045.9,482.1 1044.6,481.0 1043.3,479.7 1042.1,478.4 1040.8,477.0 1039.6,475.5 1038.4,473.9 1037.2,472.3 1036.0,470.6 1034.8,468.9 1033.6,467.2 1032.4,465.5 1031.2,463.8 1030.0,462.1 1028.8,460.4 1027.6,458.8 1026.3,457.3 1025.1,455.8 1023.8,454.4 1022.5,453.2 1021.2,452.0 1019.9,450.9 1018.6,450.0 1017.2,449.2 1015.8,448.5 1014.4,447.9 1012.9,447.5 1011.5,447.3 1010.0,447.1 1008.4,447.1 1006.9,447.3 1005.3,447.6 1003.7,448.0 1002.1,448.5 1000.4,449.1 998.7,449.8 997.0,450.7 995.3,451.6 993.6,452.6 991.9,453.6 990.2,454.7 988.4,455.8 986.7,456.9 984.9,458.1 983.2,459.2 981.4,460.3 979.7,461.4 977.9,462.5 976.2,463.4 974.5,464.4 972.8,465.2 971.2,465.9 969.5,466.5 967.9,467.1 966.3,467.5 964.7,467.7 963.1,467.9 961.6,467.9 960.1,467.8 958.6,467.5 957.2,467.1 955.7,466.5 954.4,465.9 953.0,465.0 951.6,464.1 950.3,463.0 949.0,461.9 947.7,460.6 946.5,459.2 945.2,457.7 944.0,456.2 942.8,454.6 941.6,453.0 940.4,451.3 939.2,449.6 938.0,447.8 936.8,446.1 935.6,444.4 934.4,442.8 933.2,441.1 932.0,439.6 930.7,438.1 929.5,436.6 928.2,435.3 926.9,434.1 925.6,432.9 924.3,431.9 922.9,431.1 921.5,430.3 920.1,429.7 918.7,429.2 917.2,428.9 915.8,428.7 914.2,428.6 912.7,428.7 911.1,428.9 909.5,429.2 907.9,429.7 906.3,430.2 904.6,430.9 902.9,431.7 901.2,432.6 899.5,433.5 897.8,434.5 896.1,435.6 894.3,436.7 892.6,437.8 890.8,439.0 889.1,440.1 887.3,441.2 885.6,442.3 883.8,443.4 882.1,444.4 880.4,445.4 878.7,446.2 877.0,447.0 875.4,447.7 873.7,448.3 872.1,448.7 870.5,449.1 868.9,449.3 867.4,449.4 865.9,449.3 864.4,449.1 862.9,448.8 861.5,448.3 860.1,447.7 858.7,447.0 857.3,446.1 856.0,445.1 854.7,444.0 853.4,442.7 852.1,441.4 850.9,440.0 849.7,438.5 848.4,436.9 847.2,435.3 846.0,433.6 844.8,431.9 843.6,430.2 842.4,428.5 841.2,426.8 840.0,425.1 838.8,423.5 837.6,421.9 836.4,420.3 835.1,418.8 833.9,417.5 832.6,416.2 831.3,415.0 830.0,413.9 828.6,413.0 827.3,412.2 825.9,411.5 824.5,410.9 823.0,410.5 821.5,410.2 820.0,410.1 818.5,410.1 817.0,410.2 815.4,410.5 813.8,410.9 812.1,411.4 810.5,412.0 808.8,412.8 807.1,413.6 805.4,414.5 803.7,415.5 802.0,416.5 800.2,417.6 798.5,418.7 796.7,419.8 795.0,421.0 793.2,422.1 791.5,423.2 789.8,424.3 788.0,425.4 786.3,426.3 784.6,427.3 782.9,428.1 781.2,428.8 779.6,429.5 778.0,430.0" fill="url(#hatch)" stroke="#6b6b6b" stroke-width="0.9" stroke-linejoin="round"/>
<polygon points="777.7,486.8 779.4,486.0 781.1,485.2 782.8,484.2 784.5,483.2 786.3,482.1 788.0,481.0 789.8,479.9 791.5,478.8 793.3,477.6 795.0,476.5 796.8,475.4 798.5,474.3 800.2,473.3 801.9,472.4 803.6,471.5 805.3,470.7 807.0,470.0 808.6,469.5 810.2,469.0 811.8,468.7 813.4,468.5 814.9,468.4 816.5,468.5 817.9,468.7 819.4,469.0 820.8,469.5 822.2,470.1 823.6,470.9 825.0,471.7 826.3,472.7 827.6,473.9 828.9,475.1 830.2,476.4 831.4,477.9 832.7,479.4 833.9,480.9 835.1,482.6 836.3,484.2 837.5,485.9 838.7,487.6 839.9,489.4 841.1,491.1 842.3,492.8 843.5,494.4 844.7,496.0 845.9,497.5 847.2,499.0 848.4,500.4 849.7,501.7 851.0,502.8 852.3,503.9 853.7,504.8 855.1,505.7 856.4,506.3 857.9,506.9 859.3,507.3 860.8,507.6 862.3,507.7 863.8,507.7 865.4,507.5 867.0,507.3 868.6,506.9 870.2,506.3 871.9,505.7 873.5,505.0 875.2,504.2 876.9,503.2 878.6,502.3 880.4,501.2 882.1,500.1 883.9,499.0 885.6,497.9 887.4,496.7 889.1,495.6 890.9,494.5 892.6,493.4 894.3,492.4 896.0,491.4 897.7,490.5 899.4,489.6 901.1,488.9 902.8,488.3 904.4,487.8 906.0,487.4 907.6,487.1 909.1,486.9 910.7,486.9 912.2,487.1 913.6,487.3 915.1,487.7 916.5,488.3 917.9,489.0 919.3,489.8 920.6,490.7 921.9,491.8 923.2,493.0 924.5,494.2 925.8,495.6 927.0,497.1 928.3,498.6 929.5,500.2 930.7,501.9 931.9,503.6 933.1,505.3 934.3,507.0 935.5,508.7 936.7,510.4 937.9,512.1 939.1,513.7 940.3,515.3 941.5,516.8 942.8,518.2 944.0,519.5 945.3,520.8 946.6,521.9 948.0,522.9 949.3,523.8 950.7,524.5 952.1,525.1 953.6,525.6 955.0,526.0 956.5,526.2 958.0,526.2 959.6,526.2 961.1,525.9 962.7,525.6 964.3,525.2 966.0,524.6 967.6,523.9 969.3,523.1 971.0,522.3 972.7,521.3 974.5,520.3 976.2,519.2 977.9,518.1 979.7,517.0 981.4,515.9 983.2,514.7 984.9,513.6 986.7,512.5 988.4,511.4 990.1,510.4 991.9,509.5 993.6,508.6 995.2,507.8 996.9,507.1 998.5,506.5 1000.2,506.1 1001.7,505.7 1003.3,505.5 1004.9,505.5 1006.4,505.5 1007.9,505.7 1009.3,506.0 1010.8,506.5 1012.2,507.1 1013.6,507.9 1014.9,508.7 1016.3,509.7 1017.6,510.9 1018.8,512.1 1020.1,513.4 1021.4,514.8 1022.6,516.3 1023.8,517.9 1025.0,519.5 1026.2,521.2 1027.4,522.9 1028.6,524.6 1029.8,526.3 1031.0,528.0 1032.2,529.7 1033.4,531.4 1034.6,533.0 1035.9,534.5 1037.1,536.0 1038.4,537.4 1039.7,538.6 1040.9,539.8 1042.3,540.9 1043.6,541.8 1045.0,542.7 1046.4,543.4 1047.8,543.9 1049.2,544.3 1050.7,544.6 1052.2,544.7 1053.7,544.7 1055.3,544.6 1056.9,544.3 1058.5,543.9 1060.1,543.4 1061.8,542.8 1063.4,542.1 1065.1,541.3 1066.8,540.3 1068.5,539.4 1070.3,538.3 1072.0,537.3 1073.8,536.1 1075.5,535.0 1077.3,533.8 1079.0,532.7 1080.8,531.6 1082.5,530.5 1084.2,529.5 1086.0,528.5 1087.7,527.6 1089.3,526.7 1091.0,526.0 1092.7,525.4 1094.3,524.8 1095.9,524.4 1097.5,524.2 1099.1,524.0 1100.6,524.0 1102.1,524.1 1103.6,524.4 1105.0,524.8 1106.4,525.3 1107.8,526.0 1109.2,526.8 1110.6,527.7 1111.9,528.8 1113.2,530.0 1114.5,531.2 1115.7,532.6 1117.0,534.1 1118.2,535.6 1119.4,537.2 1120.6,538.8 1121.8,540.5 1123.0,542.2 1124.2,543.9 1125.4,545.7 1126.6,547.4 1127.8,549.0 1129.0,550.7 1130.2,552.2 1131.5,553.7 1132.7,555.2 1134.0,556.5 1135.3,557.7 1136.6,558.9 1137.9,559.9 1139.3,560.8 1140.6,561.5 1142.0,562.2 1143.5,562.6 1144.9,563.0 1146.4,563.2 1147.9,563.3 1149.5,563.2 1151.0,563.0 1152.6,562.7 1154.3,562.2 1155.9,561.7 1157.6,561.0 1159.2,560.2 1160.9,559.4 1162.6,558.4 1164.4,557.4 1166.1,556.4 1167.8,555.3 1169.6,554.1 1171.3,553.0 1173.1,551.8 1174.8,550.7 1176.6,549.6 1178.3,548.5 1180.0,547.5 1181.8,546.6 1183.5,545.7 1185.1,544.9 1186.8,544.2 1188.4,543.6 1190.1,543.2 1191.7,542.8 1193.2,542.6 1194.8,542.5 1196.3,542.6 1197.8,542.7 1199.3,543.1 1200.7,543.5 1202.1,544.1 1203.5,544.9 1204.8,545.7 1206.2,546.7 1207.5,547.8 1208.8,549.1 1210.1,550.4 1211.3,551.8 1212.5,553.3 1213.8,554.9 1215.0,556.5 1216.2,558.2 1217.4,559.8 1218.6,561.6 1219.8,563.3 1221.0,565.0 1222.2,566.7 1223.4,568.3 1224.6,569.9 1225.8,571.5 1227.0,573.0 1228.3,574.3 1229.6,575.6 1230.9,576.8 1232.2,577.9 1233.5,578.8 1234.9,579.7 1236.3,580.4 1237.7,580.9 1239.2,581.4 1240.6,581.6 1242.1,581.8 1243.7,581.8 1245.2,581.7 1246.8,581.4 1248.4,581.0 1250.0,580.5 1251.7,579.9 1253.3,579.2 1255.0,578.3 1256.7,577.4 1258.5,576.5 1260.2,575.4 1261.9,574.4 1263.7,573.2 1265.4,572.1 1267.2,571.0 1268.9,569.8 1270.7,568.7 1272.4,567.6 1274.1,566.6 1275.9,565.6 1277.6,564.7 1279.3,563.8 1280.9,563.1 1282.6,562.4 1284.2,561.9 1285.8,561.5 1287.4,561.2 1289.0,561.1 1290.5,561.0 1292.0,561.1 1293.5,561.4 1294.9,561.8 1296.4,562.3 1297.8,563.0 1299.1,563.8 1300.5,564.7 1301.8,565.8 1303.1,566.9 1304.4,568.2 1305.6,569.6 1306.9,571.0 1308.1,572.6 1309.3,574.2 1310.5,575.8 1311.7,577.5 1312.9,579.2 1314.1,580.9 1315.3,582.6 1316.5,584.3 1317.7,586.0 1318.9,587.6 1320.2,589.2 1321.4,590.7 1322.6,592.1 1323.9,593.5 1325.2,594.7 1326.5,595.9 1327.8,596.9 1329.2,597.8 1330.6,598.5 1332.0,599.2 1333.4,599.7 1334.9,600.0 1336.3,600.2 1337.9,600.3 1339.4,600.3 1341.0,600.1 1342.6,599.8 1344.2,599.3 1345.8,598.7 1347.5,598.1 1349.1,597.3 1350.8,596.5 1352.6,595.5 1354.3,594.5 1356.0,593.5 1357.8,592.4 1359.5,591.2 1361.3,590.1 1363.0,588.9 1364.8,587.8 1366.5,586.7 1368.2,585.6 1370.0,584.6 1371.7,583.7 1373.4,582.8 1375.1,582.0 1376.7,581.3 1378.4,580.7 1380.0,580.2 1381.6,579.9 1383.2,579.6 1384.7,579.6 1386.2,579.6 1387.7,579.8 1389.2,580.1 1390.6,580.6 1392.0,581.2 1393.4,581.9 1394.8,582.7 1396.1,583.7 1397.4,584.8 1398.7,586.1 1400.0,587.4 1401.2,588.8 1402.5,590.3 1403.7,591.8 1404.9,593.4 1406.1,595.1 1407.3,596.8 1408.5,598.5 1409.7,600.2 1410.9,602.0 1412.1,603.6 1413.3,605.3 1414.5,606.9 1415.7,608.5 1417.0,609.9 1418.2,611.3 1419.5,612.6 1420.8,613.8 1422.1,614.9 1423.5,615.8 1424.8,616.7 1426.2,617.4 1427.6,618.0 1429.1,618.4 1430.6,618.7 1432.1,618.8 1433.6,618.8 1435.1,618.7 1436.7,618.5 1438.3,618.1 1439.9,617.6 1441.6,617.0 1443.3,616.3 1444.9,615.4 1446.6,614.5 1448.4,613.6 1450.1,612.5 1451.8,611.5 1453.6,610.4 1455.3,609.2 1457.1,608.1 1458.8,606.9 1460.6,605.8 1462.3,604.7 1464.1,603.7 1465.8,602.7 1467.5,601.8 1469.2,600.9 1470.8,600.2 1470.8,620.7 1469.2,621.4 1467.5,622.3 1465.8,623.2 1464.1,624.2 1462.3,625.2 1460.6,626.3 1458.8,627.4 1457.1,628.6 1455.3,629.7 1453.6,630.9 1451.8,632.0 1450.1,633.0 1448.4,634.1 1446.6,635.0 1444.9,635.9 1443.3,636.8 1441.6,637.5 1439.9,638.1 1438.3,638.6 1436.7,639.0 1435.1,639.2 1433.6,639.3 1432.1,639.3 1430.6,639.2 1429.1,638.9 1427.6,638.5 1426.2,637.9 1424.8,637.2 1423.5,636.3 1422.1,635.4 1420.8,634.3 1419.5,633.1 1418.2,631.8 1417.0,630.4 1415.7,629.0 1414.5,627.4 1413.3,625.8 1412.1,624.1 1410.9,622.5 1409.7,620.7 1408.5,619.0 1407.3,617.3 1406.1,615.6 1404.9,613.9 1403.7,612.3 1402.5,610.8 1401.2,609.3 1400.0,607.9 1398.7,606.6 1397.4,605.3 1396.1,604.2 1394.8,603.2 1393.4,602.4 1392.0,601.7 1390.6,601.1 1389.2,600.6 1387.7,600.3 1386.2,600.1 1384.7,600.1 1383.2,600.1 1381.6,600.4 1380.0,600.7 1378.4,601.2 1376.7,601.8 1375.1,602.5 1373.4,603.3 1371.7,604.2 1370.0,605.1 1368.2,606.1 1366.5,607.2 1364.8,608.3 1363.0,609.4 1361.3,610.6 1359.5,611.7 1357.8,612.9 1356.0,614.0 1354.3,615.0 1352.6,616.0 1350.8,617.0 1349.1,617.8 1347.5,618.6 1345.8,619.2 1344.2,619.8 1342.6,620.3 1341.0,620.6 1339.4,620.8 1337.9,620.8 1336.3,620.7 1334.9,620.5 1333.4,620.2 1332.0,619.7 1330.6,619.0 1329.2,618.3 1327.8,617.4 1326.5,616.4 1325.2,615.2 1323.9,614.0 1322.6,612.6 1321.4,611.2 1320.2,609.7 1318.9,608.1 1317.7,606.5 1316.5,604.8 1315.3,603.1 1314.1,601.4 1312.9,599.7 1311.7,598.0 1310.5,596.3 1309.3,594.7 1308.1,593.1 1306.9,591.5 1305.6,590.1 1304.4,588.7 1303.1,587.4 1301.8,586.3 1300.5,585.2 1299.1,584.3 1297.8,583.5 1296.4,582.8 1294.9,582.3 1293.5,581.9 1292.0,581.6 1290.5,581.5 1289.0,581.6 1287.4,581.7 1285.8,582.0 1284.2,582.4 1282.6,582.9 1280.9,583.6 1279.3,584.3 1277.6,585.2 1275.9,586.1 1274.1,587.1 1272.4,588.1 1270.7,589.2 1268.9,590.3 1267.2,591.5 1265.4,592.6 1263.7,593.7 1261.9,594.9 1260.2,595.9 1258.5,597.0 1256.7,597.9 1255.0,598.8 1253.3,599.7 1251.7,600.4 1250.0,601.0 1248.4,601.5 1246.8,601.9 1245.2,602.2 1243.7,602.3 1242.1,602.3 1240.6,602.1 1239.2,601.9 1237.7,601.4 1236.3,600.9 1234.9,600.2 1233.5,599.3 1232.2,598.4 1230.9,597.3 1229.6,596.1 1228.3,594.8 1227.0,593.5 1225.8,592.0 1224.6,590.4 1223.4,588.8 1222.2,587.2 1221.0,585.5 1219.8,583.8 1218.6,582.1 1217.4,580.3 1216.2,578.7 1215.0,577.0 1213.8,575.4 1212.5,573.8 1211.3,572.3 1210.1,570.9 1208.8,569.6 1207.5,568.3 1206.2,567.2 1204.8,566.2 1203.5,565.4 1202.1,564.6 1200.7,564.0 1199.3,563.6 1197.8,563.2 1196.3,563.1 1194.8,563.0 1193.2,563.1 1191.7,563.3 1190.1,563.7 1188.4,564.1 1186.8,564.7 1185.1,565.4 1183.5,566.2 1181.8,567.1 1180.0,568.0 1178.3,569.0 1176.6,570.1 1174.8,571.2 1173.1,572.3 1171.3,573.5 1169.6,574.6 1167.8,575.8 1166.1,576.9 1164.4,577.9 1162.6,578.9 1160.9,579.9 1159.2,580.7 1157.6,581.5 1155.9,582.2 1154.3,582.7 1152.6,583.2 1151.0,583.5 1149.5,583.7 1147.9,583.8 1146.4,583.7 1144.9,583.5 1143.5,583.1 1142.0,582.7 1140.6,582.0 1139.3,581.3 1137.9,580.4 1136.6,579.4 1135.3,578.2 1134.0,577.0 1132.7,575.7 1131.5,574.2 1130.2,572.7 1129.0,571.2 1127.8,569.5 1126.6,567.9 1125.4,566.2 1124.2,564.4 1123.0,562.7 1121.8,561.0 1120.6,559.3 1119.4,557.7 1118.2,556.1 1117.0,554.6 1115.7,553.1 1114.5,551.7 1113.2,550.5 1111.9,549.3 1110.6,548.2 1109.2,547.3 1107.8,546.5 1106.4,545.8 1105.0,545.3 1103.6,544.9 1102.1,544.6 1100.6,544.5 1099.1,544.5 1097.5,544.7 1095.9,544.9 1094.3,545.3 1092.7,545.9 1091.0,546.5 1089.3,547.2 1087.7,548.1 1086.0,549.0 1084.2,550.0 1082.5,551.0 1080.8,552.1 1079.0,553.2 1077.3,554.3 1075.5,555.5 1073.8,556.6 1072.0,557.8 1070.3,558.8 1068.5,559.9 1066.8,560.8 1065.1,561.8 1063.4,562.6 1061.8,563.3 1060.1,563.9 1058.5,564.4 1056.9,564.8 1055.3,565.1 1053.7,565.2 1052.2,565.2 1050.7,565.1 1049.2,564.8 1047.8,564.4 1046.4,563.9 1045.0,563.2 1043.6,562.3 1042.3,561.4 1040.9,560.3 1039.7,559.1 1038.4,557.9 1037.1,556.5 1035.9,555.0 1034.6,553.5 1033.4,551.9 1032.2,550.2 1031.0,548.5 1029.8,546.8 1028.6,545.1 1027.4,543.4 1026.2,541.7 1025.0,540.0 1023.8,538.4 1022.6,536.8 1021.4,535.3 1020.1,533.9 1018.8,532.6 1017.6,531.4 1016.3,530.2 1014.9,529.2 1013.6,528.4 1012.2,527.6 1010.8,527.0 1009.3,526.5 1007.9,526.2 1006.4,526.0 1004.9,526.0 1003.3,526.0 1001.7,526.2 1000.2,526.6 998.5,527.0 996.9,527.6 995.2,528.3 993.6,529.1 991.9,530.0 990.1,530.9 988.4,531.9 986.7,533.0 984.9,534.1 983.2,535.2 981.4,536.4 979.7,537.5 977.9,538.6 976.2,539.7 974.5,540.8 972.7,541.8 971.0,542.8 969.3,543.6 967.6,544.4 966.0,545.1 964.3,545.7 962.7,546.1 961.1,546.4 959.6,546.7 958.0,546.7 956.5,546.7 955.0,546.5 953.6,546.1 952.1,545.6 950.7,545.0 949.3,544.3 948.0,543.4 946.6,542.4 945.3,541.3 944.0,540.0 942.8,538.7 941.5,537.3 940.3,535.8 939.1,534.2 937.9,532.6 936.7,530.9 935.5,529.2 934.3,527.5 933.1,525.8 931.9,524.1 930.7,522.4 929.5,520.7 928.3,519.1 927.0,517.6 925.8,516.1 924.5,514.7 923.2,513.5 921.9,512.3 920.6,511.2 919.3,510.3 917.9,509.5 916.5,508.8 915.1,508.2 913.6,507.8 912.2,507.6 910.7,507.4 909.1,507.4 907.6,507.6 906.0,507.9 904.4,508.3 902.8,508.8 901.1,509.4 899.4,510.1 897.7,511.0 896.0,511.9 894.3,512.9 892.6,513.9 890.9,515.0 889.1,516.1 887.4,517.2 885.6,518.4 883.9,519.5 882.1,520.6 880.4,521.7 878.6,522.8 876.9,523.7 875.2,524.7 873.5,525.5 871.9,526.2 870.2,526.8 868.6,527.4 867.0,527.8 865.4,528.0 863.8,528.2 862.3,528.2 860.8,528.1 859.3,527.8 857.9,527.4 856.4,526.8 855.1,526.2 853.7,525.3 852.3,524.4 851.0,523.3 849.7,522.2 848.4,520.9 847.2,519.5 845.9,518.0 844.7,516.5 843.5,514.9 842.3,513.3 841.1,511.6 839.9,509.9 838.7,508.1 837.5,506.4 836.3,504.7 835.1,503.1 833.9,501.4 832.7,499.9 831.4,498.4 830.2,496.9 828.9,495.6 827.6,494.4 826.3,493.2 825.0,492.2 823.6,491.4 822.2,490.6 820.8,490.0 819.4,489.5 817.9,489.2 816.5,489.0 814.9,488.9 813.4,489.0 811.8,489.2 810.2,489.5 808.6,490.0 807.0,490.5 805.3,491.2 803.6,492.0 801.9,492.9 800.2,493.8 798.5,494.8 796.8,495.9 795.0,497.0 793.3,498.1 791.5,499.3 789.8,500.4 788.0,501.5 786.3,502.6 784.5,503.7 782.8,504.7 781.1,505.7 779.4,506.5 777.7,507.3" fill="url(#hatch)" stroke="#6b6b6b" stroke-width="0.9" stroke-linejoin="round"/>
</g>
<g clip-path="url(#cLeftUp)">
<polygon points="1045.3,374.0 1046.5,375.7 1047.7,377.2 1049.0,378.7 1050.2,380.2 1051.5,381.5 1052.8,382.7 1054.1,383.9 1055.4,384.9 1056.8,385.8 1058.1,386.5 1059.5,387.2 1061.0,387.6 1062.4,388.0 1063.9,388.2 1065.4,388.3 1067.0,388.2 1068.5,388.0 1070.1,387.7 1071.8,387.2 1073.4,386.7 1075.1,386.0 1076.7,385.2 1078.4,384.4 1080.1,383.4 1081.9,382.4 1083.6,381.4 1085.3,380.3 1087.1,379.1 1088.8,378.0 1090.6,376.8 1092.3,375.7 1094.1,374.6 1095.8,373.5 1097.5,372.5 1099.3,371.6 1101.0,370.7 1102.6,369.9 1104.3,369.2 1105.9,368.6 1107.6,368.2 1109.2,367.8 1110.7,367.6 1112.3,367.5 1113.8,367.6 1115.3,367.7 1116.8,368.1 1118.2,368.5 1119.6,369.1 1121.0,369.9 1122.3,370.7 1123.7,371.7 1125.0,372.8 1126.3,374.1 1127.6,375.4 1128.8,376.8 1130.0,378.3 1131.3,379.9 1132.5,381.5 1133.7,383.2 1134.9,384.8 1136.1,386.6 1137.3,388.3 1138.5,390.0 1139.7,391.7 1140.9,393.3 1142.1,394.9 1143.3,396.5 1144.5,398.0 1145.8,399.3 1147.1,400.6 1148.4,401.8 1149.7,402.9 1151.0,403.8 1152.4,404.7 1153.8,405.4 1155.2,405.9 1156.7,406.4 1158.1,406.6 1159.6,406.8 1161.2,406.8 1162.7,406.7 1164.3,406.4 1165.9,406.0 1167.5,405.5 1169.2,404.9 1170.8,404.2 1172.5,403.3 1174.2,402.4 1176.0,401.5 1177.7,400.4 1179.4,399.4 1181.2,398.2 1182.9,397.1 1184.7,396.0 1186.4,394.8 1188.2,393.7 1189.9,392.6 1191.6,391.6 1193.4,390.6 1195.1,389.7 1196.8,388.8 1198.4,388.1 1200.1,387.4 1201.7,386.9 1201.7,407.4 1200.1,407.9 1198.4,408.6 1196.8,409.3 1195.1,410.2 1193.4,411.1 1191.6,412.1 1189.9,413.1 1188.2,414.2 1186.4,415.3 1184.7,416.5 1182.9,417.6 1181.2,418.7 1179.4,419.9 1177.7,420.9 1176.0,422.0 1174.2,422.9 1172.5,423.8 1170.8,424.7 1169.2,425.4 1167.5,426.0 1165.9,426.5 1164.3,426.9 1162.7,427.2 1161.2,427.3 1159.6,427.3 1158.1,427.1 1156.7,426.9 1155.2,426.4 1153.8,425.9 1152.4,425.2 1151.0,424.3 1149.7,423.4 1148.4,422.3 1147.1,421.1 1145.8,419.8 1144.5,418.5 1143.3,417.0 1142.1,415.4 1140.9,413.8 1139.7,412.2 1138.5,410.5 1137.3,408.8 1136.1,407.1 1134.9,405.3 1133.7,403.7 1132.5,402.0 1131.3,400.4 1130.0,398.8 1128.8,397.3 1127.6,395.9 1126.3,394.6 1125.0,393.3 1123.7,392.2 1122.3,391.2 1121.0,390.4 1119.6,389.6 1118.2,389.0 1116.8,388.6 1115.3,388.2 1113.8,388.1 1112.3,388.0 1110.7,388.1 1109.2,388.3 1107.6,388.7 1105.9,389.1 1104.3,389.7 1102.6,390.4 1101.0,391.2 1099.3,392.1 1097.5,393.0 1095.8,394.0 1094.1,395.1 1092.3,396.2 1090.6,397.3 1088.8,398.5 1087.1,399.6 1085.3,400.8 1083.6,401.9 1081.9,402.9 1080.1,403.9 1078.4,404.9 1076.7,405.7 1075.1,406.5 1073.4,407.2 1071.8,407.7 1070.1,408.2 1068.5,408.5 1067.0,408.7 1065.4,408.8 1063.9,408.7 1062.4,408.5 1061.0,408.1 1059.5,407.7 1058.1,407.0 1056.8,406.3 1055.4,405.4 1054.1,404.4 1052.8,403.2 1051.5,402.0 1050.2,400.7 1049.0,399.2 1047.7,397.7 1046.5,396.2 1045.3,394.5" fill="url(#hatch)" stroke="#6b6b6b" stroke-width="0.9" stroke-linejoin="round"/>
<polygon points="1034.0,276.0 1034.3,275.6 1034.7,275.2 1035.2,274.7 1035.7,274.1 1036.2,273.4 1036.9,272.7 1037.6,271.8 1038.3,270.7 1039.1,269.4 1040.0,268.0 1040.9,266.3 1041.9,264.2 1043.0,261.9 1044.1,259.4 1045.2,256.9 1046.4,254.3 1047.7,251.7 1049.1,249.3 1050.5,247.0 1052.0,245.0 1053.6,243.2 1055.3,241.3 1057.0,239.5 1058.9,237.8 1060.8,236.2 1062.7,234.8 1064.7,233.5 1066.6,232.4 1068.6,231.6 1070.5,231.0 1072.4,230.7 1074.3,230.8 1076.3,231.0 1078.2,231.5 1080.2,232.2 1082.1,232.9 1084.1,233.8 1086.1,234.6 1088.0,235.3 1090.0,236.0 1092.0,236.7 1094.1,237.6 1096.2,238.5 1098.3,239.5 1100.3,240.5 1102.4,241.4 1104.4,242.2 1106.4,242.7 1108.2,243.0 1110.0,243.0 1111.6,242.7 1113.2,242.2 1114.6,241.5 1116.0,240.7 1117.4,239.6 1118.7,238.4 1120.0,237.0 1121.3,235.5 1122.6,233.8 1124.0,232.0 1125.4,229.9 1126.7,227.4 1128.0,224.6 1129.3,221.6 1130.6,218.5 1131.9,215.4 1133.3,212.5 1134.8,209.7 1136.3,207.1 1138.0,205.0 1139.8,203.2 1141.6,201.5 1143.6,199.9 1145.6,198.6 1147.7,197.3 1149.8,196.3 1151.9,195.4 1154.1,194.6 1156.3,194.0 1158.5,193.6 1160.7,193.4 1163.0,193.5 1165.3,193.7 1167.6,194.2 1170.0,194.8 1172.3,195.4 1174.7,196.1 1177.2,196.8 1179.6,197.5 1182.0,198.0 1184.5,198.5 1187.1,199.2 1189.8,200.0 1192.5,200.7 1195.2,201.5 1197.8,202.1 1200.3,202.7 1202.7,203.0 1205.0,203.1 1207.0,203.0 1208.8,202.6 1210.4,202.0 1211.8,201.3 1213.2,200.4 1214.4,199.3 1215.5,198.1 1216.6,196.8 1217.7,195.3 1218.8,193.7 1220.0,192.0 1221.2,190.1 1222.2,187.9 1223.3,185.4 1224.3,182.8 1225.2,180.1 1226.3,177.4 1227.3,174.8 1228.4,172.3 1229.7,170.0 1231.0,168.0 1232.4,166.2 1234.0,164.4 1235.6,162.8 1237.2,161.2 1238.9,159.8 1240.7,158.4 1242.5,157.3 1244.3,156.3 1246.2,155.6 1248.0,155.0 1249.9,154.7 1251.8,154.7 1253.8,155.0 1255.9,155.4 1257.9,156.0 1260.0,156.6 1262.1,157.3 1264.1,157.9 1266.1,158.5 1268.0,159.0 1269.9,159.4 1271.8,159.8 1273.7,160.3 1275.5,160.7 1277.4,161.2 1279.2,161.6 1281.0,162.0 1282.7,162.3 1284.4,162.5 1286.0,162.7 1287.6,162.8 1289.1,162.8 1290.7,162.7 1292.1,162.6 1293.6,162.5 1295.0,162.3 1296.3,162.1 1297.6,161.9 1298.8,161.7 1300.0,161.5 1301.1,161.3 1302.1,161.1 1303.0,160.8 1303.9,160.5 1304.8,160.3 1305.6,160.0 1306.4,159.7 1307.2,159.5 1308.1,159.2 1309.0,159.0 1310.0,158.8 1311.1,158.6 1312.2,158.4 1313.4,158.3 1314.6,158.1 1315.7,157.9 1316.7,157.8 1317.6,157.7 1318.4,157.6 1319.0,157.5 1319.5,173.5 1319.5,173.6 1319.5,173.7 1319.5,173.8 1319.5,173.9 1319.5,174.1 1319.5,174.3 1319.5,174.4 1319.5,174.6 1319.5,174.8 1319.5,175.0 1319.1,175.2 1318.2,175.5 1317.4,175.7 1316.6,176.0 1315.8,176.3 1314.9,176.5 1314.0,176.8 1313.1,177.1 1312.1,177.3 1311.0,177.5 1309.8,177.7 1308.6,177.9 1307.3,178.1 1306.0,178.3 1304.6,178.5 1303.1,178.6 1301.7,178.7 1300.1,178.8 1298.6,178.8 1297.0,178.7 1295.4,178.5 1293.7,178.3 1292.0,178.0 1290.2,177.6 1288.4,177.2 1286.5,176.7 1284.7,176.3 1282.8,175.8 1280.9,175.4 1279.0,175.0 1277.1,174.5 1275.1,173.9 1273.1,173.3 1271.0,172.6 1268.9,172.0 1266.9,171.4 1264.8,171.0 1262.8,170.7 1260.9,170.7 1259.0,171.0 1257.2,171.6 1255.3,172.3 1253.5,173.3 1251.7,174.4 1249.9,175.8 1248.2,177.2 1246.6,178.8 1245.0,180.4 1243.4,182.2 1242.0,184.0 1240.7,186.0 1239.4,188.3 1238.3,190.8 1237.3,193.4 1236.2,196.1 1235.3,198.8 1234.3,201.4 1233.2,203.9 1232.2,206.1 1231.0,208.0 1229.8,209.7 1228.7,211.3 1227.6,212.8 1226.5,214.1 1225.4,215.3 1224.2,216.4 1222.8,217.3 1221.4,218.0 1219.8,218.6 1218.0,219.0 1216.0,219.1 1213.7,219.0 1211.3,218.7 1208.8,218.1 1206.2,217.5 1203.5,216.7 1200.8,216.0 1198.1,215.2 1195.5,214.5 1193.0,214.0 1190.6,213.5 1188.2,212.8 1185.7,212.1 1183.3,211.4 1181.0,210.8 1178.6,210.2 1176.3,209.7 1174.0,209.5 1171.7,209.4 1169.5,209.6 1167.3,210.0 1165.1,210.6 1162.9,211.4 1160.8,212.3 1158.7,213.3 1156.6,214.6 1154.6,215.9 1152.6,217.5 1150.8,219.2 1149.0,221.0 1147.3,223.1 1145.8,225.7 1144.3,228.5 1142.9,231.4 1141.6,234.5 1140.3,237.6 1139.0,240.6 1137.7,243.4 1136.4,245.9 1135.0,248.0 1133.6,249.8 1132.3,251.5 1131.0,253.0 1129.7,254.4 1128.4,255.6 1127.0,256.7 1125.6,257.5 1124.2,258.2 1122.6,258.7 1121.0,259.0 1119.2,259.0 1117.4,258.7 1115.4,258.2 1113.4,257.4 1111.3,256.5 1109.3,255.5 1107.2,254.5 1105.1,253.6 1103.0,252.7 1101.0,252.0 1099.0,251.3 1097.1,250.6 1095.1,249.8 1093.1,248.9 1091.2,248.2 1089.2,247.5 1087.3,247.0 1085.3,246.8 1083.4,246.7 1081.5,247.0 1079.6,247.6 1077.6,248.4 1075.7,249.5 1073.7,250.8 1071.8,252.2 1069.9,253.8 1068.0,255.5 1066.3,257.3 1064.6,259.1 1063.0,261.0 1061.5,263.0 1060.1,265.3 1058.7,267.7 1057.4,270.3 1056.2,272.9 1055.1,275.4 1054.0,277.9 1052.9,280.2 1051.9,282.3 1051.0,284.0 1050.1,285.4 1049.3,286.7 1048.6,287.8 1047.9,288.7 1047.2,289.4 1046.7,290.1 1046.2,290.7 1045.7,291.2 1045.3,291.6 1045.0,292.0" fill="url(#hatch)" stroke="#6b6b6b" stroke-width="0.9" stroke-linejoin="round"/>
<polygon points="1308.5,159.0 1308.8,158.7 1309.1,158.3 1309.5,157.8 1310.0,157.3 1310.5,156.8 1311.0,156.1 1311.5,155.4 1312.1,154.7 1312.6,153.9 1313.0,153.0 1313.4,152.0 1313.8,151.0 1314.2,149.9 1314.6,148.7 1315.0,147.5 1315.4,146.2 1315.8,144.9 1316.2,143.6 1316.6,142.3 1317.0,141.0 1317.4,139.6 1317.9,138.2 1318.4,136.6 1318.9,135.1 1319.5,133.5 1319.9,132.0 1320.4,130.6 1320.8,129.4 1321.1,128.3 1321.4,127.5 1322.5,139.0 1318.0,158.0" fill="url(#hatch)" stroke="none"/>
<polyline points="1308.5,159.0 1308.8,158.7 1309.1,158.3 1309.5,157.8 1310.0,157.3 1310.5,156.8 1311.0,156.1 1311.5,155.4 1312.1,154.7 1312.6,153.9 1313.0,153.0 1313.4,152.0 1313.8,151.0 1314.2,149.9 1314.6,148.7 1315.0,147.5 1315.4,146.2 1315.8,144.9 1316.2,143.6 1316.6,142.3 1317.0,141.0 1317.4,139.6 1317.9,138.2 1318.4,136.6 1318.9,135.1 1319.5,133.5 1319.9,132.0 1320.4,130.6 1320.8,129.4 1321.1,128.3 1321.4,127.5" fill="none" stroke="#6b6b6b" stroke-width="0.9"/>
<path d="M1050.5,338.3 Q1052.5,350.0 1073.75,343.8 Q1090,335.7 1091,325.3 Z" fill="url(#hatchv)" stroke="#6b6b6b" stroke-width="0.9"/>
<path d="M1144.5,308.2 Q1146.5,317.7 1165.0,312.2 Q1178.5,305.5 1179.5,297.1 Z" fill="url(#hatchv)" stroke="#6b6b6b" stroke-width="0.9"/>
<path d="M1239,278.1 Q1241,284.4 1255.0,280.0 Q1264,275.4 1265,269.8 Z" fill="url(#hatchv)" stroke="#6b6b6b" stroke-width="0.9"/>
</g>
<polygon points="686.0,663.5 1467.0,173.5 1467.0,236.0 782.0,663.5" fill="#fff"/>
<line x1="686" y1="663.5" x2="1467" y2="173.5" stroke="#b08a6a" stroke-width="0.6"/>
<line x1="782" y1="663.5" x2="1467" y2="236" stroke="#b08a6a" stroke-width="0.6"/>
<polyline points="154.0,465.4 176.8,444.8 181.1,448.3 186.8,448.8 194.2,454.6 222.3,454.6 226.0,448.0 233.5,435.5 238.5,433.0 251.0,423.0 263.4,411.2 277.4,397.2 295.5,379.8 300.5,380.4 318.0,362.3 329.2,362.3 331.0,358.0 339.8,358.0 343.5,350.5 356.6,350.5 362.2,343.6 369.0,343.6 371.5,339.6 379.6,337.4 387.0,336.8 395.8,327.4 419.5,316.2 449.4,311.2 475.0,302.5 500.0,294.0 567.5,274.0 622.5,270.0 647.5,259.0 685.0,257.0 732.5,245.0 770.0,225.5 817.5,225.0 855.0,214.0 895.0,192.5 937.5,185.0 992.5,184.0 1030.0,179.5 1080.0,176.5 1125.0,165.5 1155.0,152.5 1215.0,136.0 1277.5,134.0 1292.5,127.0 1317.5,125.0 1340.0,127.0 1362.5,137.5 1384.0,154.0 1405.0,148.0 1435.0,147.5 1467.0,152.5" fill="none" stroke="#4f5f52" stroke-width="1.4"/>
<polyline points="1467.0,663.5 154.0,663.5 154.0,465.4" fill="none" stroke="#6b3f22" stroke-width="1.3"/>
<polyline points="838.0,628.6 854.7,602.3 863.0,612.9" fill="#fff" stroke="#868c91" stroke-width="1.5" stroke-linejoin="miter"/>
<polyline points="934.7,568.2 951.3,541.7 958.0,553.7" fill="#fff" stroke="#868c91" stroke-width="1.5" stroke-linejoin="miter"/>
<polyline points="1038.0,503.7 1049.7,486.0 1054.7,493.3" fill="#fff" stroke="#868c91" stroke-width="1.5" stroke-linejoin="miter"/>
<polyline points="1222.5,326.9 1230.0,338.5 1245.0,312.8" fill="#fff" stroke="#868c91" stroke-width="1.5" stroke-linejoin="miter"/>
<polyline points="1314.0,269.5 1319.5,276.0 1330.0,259.5" fill="#fff" stroke="#868c91" stroke-width="1.5" stroke-linejoin="miter"/>
<polygon points="262.5,411.5 277.0,398.8 1467.0,398.8 1467.0,412.2 262.5,412.2" fill="#fff"/>
<line x1="277" y1="398.6" x2="1467" y2="398.6" stroke="#5a4030" stroke-width="1.3"/>
<line x1="262" y1="412.4" x2="1467" y2="412.4" stroke="#5a4030" stroke-width="1.4"/>
<line x1="262.5" y1="411.5" x2="277" y2="398" stroke="#666" stroke-width="0.8"/>
<line x1="1467.2" y1="152.5" x2="1467.2" y2="663.5" stroke="#4a3a30" stroke-width="1.4"/>
<line x1="1110" y1="398.6" x2="1206" y2="398.6" stroke="#9a9a9a" stroke-width="1.3"/>
<line x1="1088" y1="412.4" x2="1184" y2="412.4" stroke="#9a9a9a" stroke-width="1.4"/>
<g stroke="#787878" stroke-width="1.3" fill="none">
<line x1="110.5" y1="27" x2="110.5" y2="715"/>
<line x1="66" y1="70.5" x2="110.5" y2="27"/>
<line x1="66.3" y1="128.1" x2="110.5" y2="128.1"/>
<line x1="66.3" y1="189.4" x2="110.5" y2="189.4"/>
<line x1="66.3" y1="250.3" x2="110.5" y2="250.3"/>
<line x1="66.3" y1="311.3" x2="110.5" y2="311.3"/>
<line x1="66.3" y1="372.3" x2="110.5" y2="372.3"/>
<line x1="66.3" y1="433.3" x2="110.5" y2="433.3"/>
<line x1="66.3" y1="494.2" x2="110.5" y2="494.2"/>
<line x1="66.3" y1="555.2" x2="110.5" y2="555.2"/>
<line x1="66.3" y1="615.5" x2="110.5" y2="615.5"/>
<line x1="66.3" y1="676.5" x2="110.5" y2="676.5"/>
<line x1="264" y1="719" x2="1468.5" y2="719"/>
<line x1="264.3" y1="719" x2="264.3" y2="806.5"/>
<line x1="468.7" y1="719" x2="468.7" y2="806.5"/>
<line x1="612" y1="719" x2="612" y2="806.5"/>
<line x1="755" y1="719" x2="755" y2="806.5"/>
<line x1="897.5" y1="719" x2="897.5" y2="806.5"/>
<line x1="1040.5" y1="719" x2="1040.5" y2="806.5"/>
<line x1="1182.5" y1="719" x2="1182.5" y2="806.5"/>
<line x1="1325" y1="719" x2="1325" y2="806.5"/>
<line x1="1468.5" y1="719" x2="1468.5" y2="806.5"/>
</g>
<polygon points="308.5,36.3 330.0,14.5 330.0,25.3 379.0,25.3 379.0,47.0 330.0,47.0 330.0,58.5" fill="#fff" stroke="#787878" stroke-width="1.2"/>
<polygon points="1466.3,36.5 1444.0,14.3 1444.0,26.5 1394.3,26.5 1394.3,47.3 1444.0,47.3 1444.0,58.5" fill="#fff" stroke="#787878" stroke-width="1.2"/>
<g stroke="#111" stroke-width="1.35" fill="none" stroke-linejoin="miter">
<line x1="628" y1="36" x2="996" y2="36"/>
<line x1="277" y1="99" x2="277" y2="409"/>
<polyline points="301,311.2 361.6,311.2 395.2,344.2"/>
<line x1="500" y1="189.5" x2="831" y2="189.5"/>
<line x1="831" y1="190" x2="961" y2="210"/>
<line x1="831" y1="190" x2="953" y2="246"/>
<line x1="831" y1="190" x2="953" y2="311"/>
<polyline points="217.5,502 550,502 599.3,483.3 599.3,541.8 291,541.8"/>
<polyline points="599.3,483.3 651,516 908,516"/>
<polyline points="451,701.5 694.5,701.5 771,645.5"/>
<polyline points="991,632.7 1317,632.7 1317,497.5"/>
<polyline points="1014.5,704 1305,704 1403.5,609"/>
<polyline points="1317.7,482 1392.7,506.7 1712.7,506.7"/>
<polyline points="1432,357 1491,332.7 1686,332.7"/>
<polyline points="1459,407 1514,378 1734,378"/>
<polyline points="1445,225.7 1487.7,189 1645,189"/>
</g>
<g stroke="#111" stroke-width="1.9">
<line x1="1031" y1="272" x2="1317.5" y2="177"/>
<line x1="1031" y1="344.5" x2="1317.5" y2="253"/>
</g>
<g stroke="#111" stroke-width="1.6" fill="#111">
<line x1="784.7" y1="584.3" x2="675.3" y2="651.7"/>
<polygon points="675.3,651.7 699.7,621.7 704.7,633.3" stroke="none"/>
<line x1="818" y1="657.7" x2="926.3" y2="591.7"/>
<polygon points="926.3,591.7 894.7,606.7 903.0,620.0" stroke="none"/>
</g>
<g font-family="Liberation Serif, serif" fill="#111">
<text x="13" y="44.8" font-size="31.1" text-anchor="start">H(m)</text>
<text x="0.8" y="137.3" font-size="31.1" text-anchor="start">1750</text>
<text x="0.8" y="200.5" font-size="31.1" text-anchor="start">1700</text>
<text x="0.8" y="261.3" font-size="31.1" text-anchor="start">1650</text>
<text x="0.8" y="322.2" font-size="31.1" text-anchor="start">1600</text>
<text x="0.8" y="382.6" font-size="31.1" text-anchor="start">1550</text>
<text x="0.8" y="439.7" font-size="31.1" text-anchor="start">1500</text>
<text x="0.8" y="499.2" font-size="31.1" text-anchor="start">1450</text>
<text x="0.8" y="569.2" font-size="31.1" text-anchor="start">1400</text>
<text x="0.8" y="629.6" font-size="31.1" text-anchor="start">1350</text>
<text x="0.8" y="690.2" font-size="31.1" text-anchor="start">1300</text>
<text x="253" y="47.6" font-size="31.1" text-anchor="start">Dali</text>
<text x="1484" y="46.7" font-size="31.1" text-anchor="start">Linchang</text>
<text x="628" y="25" font-size="31.1" text-anchor="start">Central Mileage: DK84+616.5</text>
<text x="712" y="66.7" font-size="31.1" text-anchor="start">Length: 8867m</text>
<text x="499.5" y="179" font-size="31.25" text-anchor="start">Carbonaceous slate, Schist</text>
<text x="572" y="219.7" font-size="31.1" text-anchor="start">Length: 8867m</text>
<text x="296.5" y="295" font-size="31.4" text-anchor="start">Coarse breccia soil</text>
<text x="221.5" y="206.5" font-size="31.1" text-anchor="start" transform="rotate(-90 221.5 206.5)">Entrance</text>
<text x="258.5" y="205.5" font-size="31.1" text-anchor="start" transform="rotate(-90 258.5 205.5)">position</text>
<text x="314.5" y="236.2" font-size="31.1" text-anchor="start" transform="rotate(-90 314.5 236.2)">DK80+183</text>
<text x="648" y="279" font-size="31.1" text-anchor="start">W<tspan font-size="18.5" dy="7">4</tspan></text>
<text x="680" y="316" font-size="31.1" text-anchor="start">W<tspan font-size="18.5" dy="7">3</tspan></text>
<text x="797" y="373" font-size="31.1" text-anchor="start">W<tspan font-size="18.5" dy="7">2</tspan></text>
<text x="775" y="457" font-size="31.1" text-anchor="start">W<tspan font-size="18.5" dy="7">2</tspan></text>
<text x="973.5" y="574.7" font-size="31.1" text-anchor="start">W<tspan font-size="18.5" dy="7">2</tspan></text>
<text x="191" y="490.2" font-size="31.1" text-anchor="start">Bedding: N39°E/35°NW (18°)</text>
<text x="296.5" y="533.6" font-size="31.1" text-anchor="start">Joint: N53°W/90°(90°)</text>
<text x="636.8" y="505.5" font-size="31.1" text-anchor="start">Joint: N15°E/63°SE (7°)</text>
<text x="202" y="580.7" font-size="31.4" text-anchor="start">W<tspan font-size="18.5" dy="7">4</tspan><tspan dy="-7" dx="1">: fully weathered;</tspan></text>
<text x="202" y="618.2" font-size="31.4" text-anchor="start">W<tspan font-size="18.5" dy="7">3</tspan><tspan dy="-7" dx="1">: strong weathered;</tspan></text>
<text x="202" y="656.4" font-size="31.4" text-anchor="start">W<tspan font-size="18.5" dy="7">2</tspan><tspan dy="-7" dx="1">: medium weathered</tspan></text>
<text x="441" y="694.7" font-size="31.1" text-anchor="start">Liuwugu Fault zone</text>
<text x="980.5" y="619.7" font-size="31.1" text-anchor="start">Joint: N33°E/54°NW(27°)</text>
<text x="1022" y="692.7" font-size="31.1" text-anchor="start">Joint: N80°W90°(90°)</text>
<text x="1352.6" y="496" font-size="31.1" text-anchor="start">Bedding: N22°E/48°SE (11°)</text>
<text x="1482" y="322.7" font-size="31.4" text-anchor="start">Carbonaceous slate</text>
<text x="1481" y="369.7" font-size="31.25" text-anchor="start">Design track elevation</text>
<text x="1489" y="176.7" font-size="31.1" text-anchor="start">Fault breccia</text>
<text x="222" y="795" font-size="31.1" text-anchor="start" transform="rotate(-90 222 795)">DK80</text>
<text x="260.2" y="795.5" font-size="31.1" text-anchor="start" transform="rotate(-90 260.2 795.5)">+183</text>
<text x="461.5" y="794.8" font-size="31.1" text-anchor="start" transform="rotate(-90 461.5 794.8)" letter-spacing="0.6">+300</text>
<text x="601.5" y="794.8" font-size="31.1" text-anchor="start" transform="rotate(-90 601.5 794.8)" letter-spacing="0.6">+400</text>
<text x="747" y="794.8" font-size="31.1" text-anchor="start" transform="rotate(-90 747 794.8)" letter-spacing="0.6">+500</text>
<text x="890.5" y="794.8" font-size="31.1" text-anchor="start" transform="rotate(-90 890.5 794.8)" letter-spacing="0.6">+600</text>
<text x="1033" y="794.8" font-size="31.1" text-anchor="start" transform="rotate(-90 1033 794.8)" letter-spacing="0.6">+700</text>
<text x="1169.5" y="794.8" font-size="31.1" text-anchor="start" transform="rotate(-90 1169.5 794.8)" letter-spacing="0.6">+800</text>
<text x="1315.8" y="794.8" font-size="31.1" text-anchor="start" transform="rotate(-90 1315.8 794.8)" letter-spacing="0.6">+900</text>
<text x="1425.5" y="797" font-size="31.1" text-anchor="start" transform="rotate(-90 1425.5 797)">DK81</text>
<text x="1464" y="797.5" font-size="31.1" text-anchor="start" transform="rotate(-90 1464 797.5)" letter-spacing="0.6">+000</text>
</g>
</svg>
</body></html>
